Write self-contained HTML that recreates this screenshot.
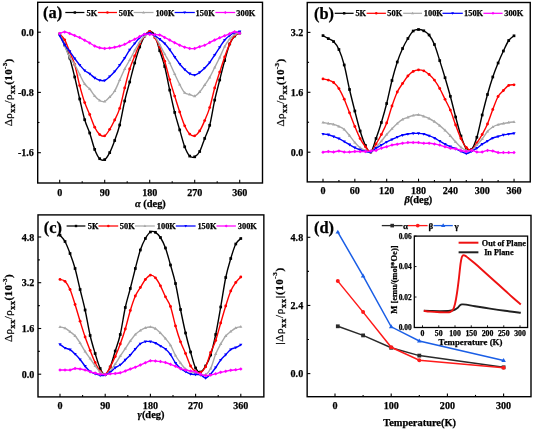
<!DOCTYPE html>
<html><head><meta charset="utf-8"><style>
html,body{margin:0;padding:0;background:#fff;width:533px;height:429px;overflow:hidden;}
svg{display:block;will-change:transform;filter:blur(0.3px);}
text{font-family:"Liberation Serif", serif;stroke:#000;stroke-width:0.25px;}
</style></head><body>
<svg width="533" height="429" viewBox="0 0 533 429" font-family='"Liberation Serif", serif'>
<rect width="533" height="429" fill="#fff"/>
<path d="M59.70,34.00 C60.53,35.83 63.03,41.00 64.70,45.00 C66.37,49.00 68.03,52.67 69.70,58.00 C71.37,63.33 73.03,70.17 74.70,77.00 C76.37,83.83 78.03,91.88 79.70,99.00 C81.37,106.12 83.03,114.03 84.70,119.70 C86.37,125.37 88.03,128.05 89.70,133.00 C91.37,137.95 93.03,145.12 94.70,149.40 C96.37,153.68 98.03,157.00 99.70,158.70 C101.37,160.40 103.03,160.62 104.70,159.60 C106.37,158.58 108.03,155.78 109.70,152.60 C111.37,149.42 113.03,145.10 114.70,140.50 C116.37,135.90 118.03,131.58 119.70,125.00 C121.37,118.42 123.03,108.17 124.70,101.00 C126.37,93.83 128.03,88.33 129.70,82.00 C131.37,75.67 133.03,68.83 134.70,63.00 C136.37,57.17 138.03,51.50 139.70,47.00 C141.37,42.50 143.03,38.53 144.70,36.00 C146.37,33.47 148.03,31.97 149.70,31.80 C151.37,31.63 153.03,31.85 154.70,35.00 C156.37,38.15 158.03,45.45 159.70,50.70 C161.37,55.95 163.03,59.93 164.70,66.50 C166.37,73.07 168.03,82.45 169.70,90.10 C171.37,97.75 173.03,105.77 174.70,112.40 C176.37,119.03 178.03,124.17 179.70,129.90 C181.37,135.63 183.03,142.43 184.70,146.80 C186.37,151.17 188.03,154.43 189.70,156.10 C191.37,157.77 193.03,157.57 194.70,156.80 C196.37,156.03 198.03,154.57 199.70,151.50 C201.37,148.43 203.03,142.77 204.70,138.40 C206.37,134.03 208.03,131.68 209.70,125.30 C211.37,118.92 213.03,107.65 214.70,100.10 C216.37,92.55 218.03,86.60 219.70,80.00 C221.37,73.40 223.03,66.50 224.70,60.50 C226.37,54.50 228.03,48.08 229.70,44.00 C231.37,39.92 233.03,37.83 234.70,36.00 C236.37,34.17 238.87,33.50 239.70,33.00" fill="none" stroke="#000000" stroke-width="1.40" stroke-linejoin="round"/><rect x="58.35" y="32.65" width="2.70" height="2.70" fill="#000000"/><rect x="63.35" y="43.65" width="2.70" height="2.70" fill="#000000"/><rect x="68.35" y="56.65" width="2.70" height="2.70" fill="#000000"/><rect x="73.35" y="75.65" width="2.70" height="2.70" fill="#000000"/><rect x="78.35" y="97.65" width="2.70" height="2.70" fill="#000000"/><rect x="83.35" y="118.35" width="2.70" height="2.70" fill="#000000"/><rect x="88.35" y="131.65" width="2.70" height="2.70" fill="#000000"/><rect x="93.35" y="148.05" width="2.70" height="2.70" fill="#000000"/><rect x="98.35" y="157.35" width="2.70" height="2.70" fill="#000000"/><rect x="103.35" y="158.25" width="2.70" height="2.70" fill="#000000"/><rect x="108.35" y="151.25" width="2.70" height="2.70" fill="#000000"/><rect x="113.35" y="139.15" width="2.70" height="2.70" fill="#000000"/><rect x="118.35" y="123.65" width="2.70" height="2.70" fill="#000000"/><rect x="123.35" y="99.65" width="2.70" height="2.70" fill="#000000"/><rect x="128.35" y="80.65" width="2.70" height="2.70" fill="#000000"/><rect x="133.35" y="61.65" width="2.70" height="2.70" fill="#000000"/><rect x="138.35" y="45.65" width="2.70" height="2.70" fill="#000000"/><rect x="143.35" y="34.65" width="2.70" height="2.70" fill="#000000"/><rect x="148.35" y="30.45" width="2.70" height="2.70" fill="#000000"/><rect x="153.35" y="33.65" width="2.70" height="2.70" fill="#000000"/><rect x="158.35" y="49.35" width="2.70" height="2.70" fill="#000000"/><rect x="163.35" y="65.15" width="2.70" height="2.70" fill="#000000"/><rect x="168.35" y="88.75" width="2.70" height="2.70" fill="#000000"/><rect x="173.35" y="111.05" width="2.70" height="2.70" fill="#000000"/><rect x="178.35" y="128.55" width="2.70" height="2.70" fill="#000000"/><rect x="183.35" y="145.45" width="2.70" height="2.70" fill="#000000"/><rect x="188.35" y="154.75" width="2.70" height="2.70" fill="#000000"/><rect x="193.35" y="155.45" width="2.70" height="2.70" fill="#000000"/><rect x="198.35" y="150.15" width="2.70" height="2.70" fill="#000000"/><rect x="203.35" y="137.05" width="2.70" height="2.70" fill="#000000"/><rect x="208.35" y="123.95" width="2.70" height="2.70" fill="#000000"/><rect x="213.35" y="98.75" width="2.70" height="2.70" fill="#000000"/><rect x="218.35" y="78.65" width="2.70" height="2.70" fill="#000000"/><rect x="223.35" y="59.15" width="2.70" height="2.70" fill="#000000"/><rect x="228.35" y="42.65" width="2.70" height="2.70" fill="#000000"/><rect x="233.35" y="34.65" width="2.70" height="2.70" fill="#000000"/><rect x="238.35" y="31.65" width="2.70" height="2.70" fill="#000000"/><path d="M59.70,34.00 C60.53,34.97 63.03,36.80 64.70,39.80 C66.37,42.80 68.03,47.88 69.70,52.00 C71.37,56.12 73.03,58.90 74.70,64.50 C76.37,70.10 78.03,79.25 79.70,85.60 C81.37,91.95 83.03,97.78 84.70,102.60 C86.37,107.42 88.03,110.40 89.70,114.50 C91.37,118.60 93.03,123.85 94.70,127.20 C96.37,130.55 98.03,133.17 99.70,134.60 C101.37,136.03 103.03,136.68 104.70,135.80 C106.37,134.92 108.03,131.93 109.70,129.30 C111.37,126.67 113.03,123.48 114.70,120.00 C116.37,116.52 118.03,113.73 119.70,108.40 C121.37,103.07 123.03,94.57 124.70,88.00 C126.37,81.43 128.03,74.33 129.70,69.00 C131.37,63.67 133.03,60.17 134.70,56.00 C136.37,51.83 138.03,47.35 139.70,44.00 C141.37,40.65 143.03,37.98 144.70,35.90 C146.37,33.82 148.03,31.22 149.70,31.50 C151.37,31.78 153.03,35.02 154.70,37.60 C156.37,40.18 158.03,43.07 159.70,47.00 C161.37,50.93 163.03,55.77 164.70,61.20 C166.37,66.63 168.03,73.78 169.70,79.60 C171.37,85.42 173.03,90.72 174.70,96.10 C176.37,101.48 178.03,106.95 179.70,111.90 C181.37,116.85 183.03,122.10 184.70,125.80 C186.37,129.50 188.03,132.43 189.70,134.10 C191.37,135.77 193.03,136.33 194.70,135.80 C196.37,135.27 198.03,133.43 199.70,130.90 C201.37,128.37 203.03,124.48 204.70,120.60 C206.37,116.72 208.03,113.03 209.70,107.60 C211.37,102.17 213.03,93.92 214.70,88.00 C216.37,82.08 218.03,77.28 219.70,72.10 C221.37,66.92 223.03,61.60 224.70,56.90 C226.37,52.20 228.03,47.47 229.70,43.90 C231.37,40.33 233.03,37.32 234.70,35.50 C236.37,33.68 238.87,33.42 239.70,33.00" fill="none" stroke="#ff0000" stroke-width="1.40" stroke-linejoin="round"/><circle cx="59.70" cy="34.00" r="1.42" fill="#ff0000"/><circle cx="64.70" cy="39.80" r="1.42" fill="#ff0000"/><circle cx="69.70" cy="52.00" r="1.42" fill="#ff0000"/><circle cx="74.70" cy="64.50" r="1.42" fill="#ff0000"/><circle cx="79.70" cy="85.60" r="1.42" fill="#ff0000"/><circle cx="84.70" cy="102.60" r="1.42" fill="#ff0000"/><circle cx="89.70" cy="114.50" r="1.42" fill="#ff0000"/><circle cx="94.70" cy="127.20" r="1.42" fill="#ff0000"/><circle cx="99.70" cy="134.60" r="1.42" fill="#ff0000"/><circle cx="104.70" cy="135.80" r="1.42" fill="#ff0000"/><circle cx="109.70" cy="129.30" r="1.42" fill="#ff0000"/><circle cx="114.70" cy="120.00" r="1.42" fill="#ff0000"/><circle cx="119.70" cy="108.40" r="1.42" fill="#ff0000"/><circle cx="124.70" cy="88.00" r="1.42" fill="#ff0000"/><circle cx="129.70" cy="69.00" r="1.42" fill="#ff0000"/><circle cx="134.70" cy="56.00" r="1.42" fill="#ff0000"/><circle cx="139.70" cy="44.00" r="1.42" fill="#ff0000"/><circle cx="144.70" cy="35.90" r="1.42" fill="#ff0000"/><circle cx="149.70" cy="31.50" r="1.42" fill="#ff0000"/><circle cx="154.70" cy="37.60" r="1.42" fill="#ff0000"/><circle cx="159.70" cy="47.00" r="1.42" fill="#ff0000"/><circle cx="164.70" cy="61.20" r="1.42" fill="#ff0000"/><circle cx="169.70" cy="79.60" r="1.42" fill="#ff0000"/><circle cx="174.70" cy="96.10" r="1.42" fill="#ff0000"/><circle cx="179.70" cy="111.90" r="1.42" fill="#ff0000"/><circle cx="184.70" cy="125.80" r="1.42" fill="#ff0000"/><circle cx="189.70" cy="134.10" r="1.42" fill="#ff0000"/><circle cx="194.70" cy="135.80" r="1.42" fill="#ff0000"/><circle cx="199.70" cy="130.90" r="1.42" fill="#ff0000"/><circle cx="204.70" cy="120.60" r="1.42" fill="#ff0000"/><circle cx="209.70" cy="107.60" r="1.42" fill="#ff0000"/><circle cx="214.70" cy="88.00" r="1.42" fill="#ff0000"/><circle cx="219.70" cy="72.10" r="1.42" fill="#ff0000"/><circle cx="224.70" cy="56.90" r="1.42" fill="#ff0000"/><circle cx="229.70" cy="43.90" r="1.42" fill="#ff0000"/><circle cx="234.70" cy="35.50" r="1.42" fill="#ff0000"/><circle cx="239.70" cy="33.00" r="1.42" fill="#ff0000"/><path d="M59.70,34.00 C60.53,36.00 63.03,42.08 64.70,46.00 C66.37,49.92 68.03,54.42 69.70,57.50 C71.37,60.58 73.03,61.67 74.70,64.50 C76.37,67.33 78.03,71.25 79.70,74.50 C81.37,77.75 83.03,81.58 84.70,84.00 C86.37,86.42 88.03,87.00 89.70,89.00 C91.37,91.00 93.03,94.08 94.70,96.00 C96.37,97.92 98.03,99.60 99.70,100.50 C101.37,101.40 103.03,101.98 104.70,101.40 C106.37,100.82 108.03,98.73 109.70,97.00 C111.37,95.27 113.03,93.83 114.70,91.00 C116.37,88.17 118.03,83.67 119.70,80.00 C121.37,76.33 123.03,72.33 124.70,69.00 C126.37,65.67 128.03,63.08 129.70,60.00 C131.37,56.92 133.03,53.50 134.70,50.50 C136.37,47.50 138.03,44.42 139.70,42.00 C141.37,39.58 143.03,37.47 144.70,36.00 C146.37,34.53 148.03,33.12 149.70,33.20 C151.37,33.28 153.03,34.60 154.70,36.50 C156.37,38.40 158.03,41.68 159.70,44.60 C161.37,47.52 163.03,50.93 164.70,54.00 C166.37,57.07 168.03,59.67 169.70,63.00 C171.37,66.33 173.03,70.42 174.70,74.00 C176.37,77.58 178.03,81.38 179.70,84.50 C181.37,87.62 183.03,91.05 184.70,92.70 C186.37,94.35 188.03,93.83 189.70,94.40 C191.37,94.97 193.03,96.50 194.70,96.10 C196.37,95.70 198.03,93.85 199.70,92.00 C201.37,90.15 203.03,87.43 204.70,85.00 C206.37,82.57 208.03,80.32 209.70,77.40 C211.37,74.48 213.03,70.82 214.70,67.50 C216.37,64.18 218.03,61.00 219.70,57.50 C221.37,54.00 223.03,49.58 224.70,46.50 C226.37,43.42 228.03,41.00 229.70,39.00 C231.37,37.00 233.03,35.55 234.70,34.50 C236.37,33.45 238.87,33.00 239.70,32.70" fill="none" stroke="#a8a8a8" stroke-width="1.40" stroke-linejoin="round"/><path d="M59.70,32.24L61.32,35.08L58.08,35.08Z" fill="#a8a8a8"/><path d="M64.70,44.24L66.32,47.08L63.08,47.08Z" fill="#a8a8a8"/><path d="M69.70,55.74L71.32,58.58L68.08,58.58Z" fill="#a8a8a8"/><path d="M74.70,62.74L76.32,65.58L73.08,65.58Z" fill="#a8a8a8"/><path d="M79.70,72.75L81.32,75.58L78.08,75.58Z" fill="#a8a8a8"/><path d="M84.70,82.25L86.32,85.08L83.08,85.08Z" fill="#a8a8a8"/><path d="M89.70,87.25L91.32,90.08L88.08,90.08Z" fill="#a8a8a8"/><path d="M94.70,94.25L96.32,97.08L93.08,97.08Z" fill="#a8a8a8"/><path d="M99.70,98.75L101.32,101.58L98.08,101.58Z" fill="#a8a8a8"/><path d="M104.70,99.65L106.32,102.48L103.08,102.48Z" fill="#a8a8a8"/><path d="M109.70,95.25L111.32,98.08L108.08,98.08Z" fill="#a8a8a8"/><path d="M114.70,89.25L116.32,92.08L113.08,92.08Z" fill="#a8a8a8"/><path d="M119.70,78.25L121.32,81.08L118.08,81.08Z" fill="#a8a8a8"/><path d="M124.70,67.25L126.32,70.08L123.08,70.08Z" fill="#a8a8a8"/><path d="M129.70,58.24L131.32,61.08L128.08,61.08Z" fill="#a8a8a8"/><path d="M134.70,48.74L136.32,51.58L133.08,51.58Z" fill="#a8a8a8"/><path d="M139.70,40.24L141.32,43.08L138.08,43.08Z" fill="#a8a8a8"/><path d="M144.70,34.24L146.32,37.08L143.08,37.08Z" fill="#a8a8a8"/><path d="M149.70,31.45L151.32,34.28L148.08,34.28Z" fill="#a8a8a8"/><path d="M154.70,34.74L156.32,37.58L153.08,37.58Z" fill="#a8a8a8"/><path d="M159.70,42.84L161.32,45.68L158.08,45.68Z" fill="#a8a8a8"/><path d="M164.70,52.24L166.32,55.08L163.08,55.08Z" fill="#a8a8a8"/><path d="M169.70,61.24L171.32,64.08L168.08,64.08Z" fill="#a8a8a8"/><path d="M174.70,72.25L176.32,75.08L173.08,75.08Z" fill="#a8a8a8"/><path d="M179.70,82.75L181.32,85.58L178.08,85.58Z" fill="#a8a8a8"/><path d="M184.70,90.95L186.32,93.78L183.08,93.78Z" fill="#a8a8a8"/><path d="M189.70,92.65L191.32,95.48L188.08,95.48Z" fill="#a8a8a8"/><path d="M194.70,94.34L196.32,97.18L193.08,97.18Z" fill="#a8a8a8"/><path d="M199.70,90.25L201.32,93.08L198.08,93.08Z" fill="#a8a8a8"/><path d="M204.70,83.25L206.32,86.08L203.08,86.08Z" fill="#a8a8a8"/><path d="M209.70,75.65L211.32,78.48L208.08,78.48Z" fill="#a8a8a8"/><path d="M214.70,65.75L216.32,68.58L213.08,68.58Z" fill="#a8a8a8"/><path d="M219.70,55.74L221.32,58.58L218.08,58.58Z" fill="#a8a8a8"/><path d="M224.70,44.74L226.32,47.58L223.08,47.58Z" fill="#a8a8a8"/><path d="M229.70,37.24L231.32,40.08L228.08,40.08Z" fill="#a8a8a8"/><path d="M234.70,32.74L236.32,35.58L233.08,35.58Z" fill="#a8a8a8"/><path d="M239.70,30.95L241.32,33.78L238.08,33.78Z" fill="#a8a8a8"/><path d="M59.70,35.70 C60.53,37.22 63.03,42.20 64.70,44.80 C66.37,47.40 68.03,49.02 69.70,51.30 C71.37,53.58 73.03,56.22 74.70,58.50 C76.37,60.78 78.03,63.00 79.70,65.00 C81.37,67.00 83.03,69.03 84.70,70.50 C86.37,71.97 88.03,72.57 89.70,73.80 C91.37,75.03 93.03,76.82 94.70,77.90 C96.37,78.98 98.03,79.87 99.70,80.30 C101.37,80.73 103.03,81.12 104.70,80.50 C106.37,79.88 108.03,78.10 109.70,76.60 C111.37,75.10 113.03,73.40 114.70,71.50 C116.37,69.60 118.03,67.45 119.70,65.20 C121.37,62.95 123.03,60.55 124.70,58.00 C126.37,55.45 128.03,52.32 129.70,49.90 C131.37,47.48 133.03,45.52 134.70,43.50 C136.37,41.48 138.03,39.33 139.70,37.80 C141.37,36.27 143.03,35.07 144.70,34.30 C146.37,33.53 148.03,33.00 149.70,33.20 C151.37,33.40 153.03,34.50 154.70,35.50 C156.37,36.50 158.03,37.87 159.70,39.20 C161.37,40.53 163.03,41.75 164.70,43.50 C166.37,45.25 168.03,47.45 169.70,49.70 C171.37,51.95 173.03,54.62 174.70,57.00 C176.37,59.38 178.03,61.92 179.70,64.00 C181.37,66.08 183.03,67.88 184.70,69.50 C186.37,71.12 188.03,72.78 189.70,73.70 C191.37,74.62 193.03,75.22 194.70,75.00 C196.37,74.78 198.03,73.57 199.70,72.40 C201.37,71.23 203.03,69.65 204.70,68.00 C206.37,66.35 208.03,64.67 209.70,62.50 C211.37,60.33 213.03,57.52 214.70,55.00 C216.37,52.48 218.03,49.90 219.70,47.40 C221.37,44.90 223.03,41.98 224.70,40.00 C226.37,38.02 228.03,36.72 229.70,35.50 C231.37,34.28 233.03,33.33 234.70,32.70 C236.37,32.07 238.87,31.87 239.70,31.70" fill="none" stroke="#0000ff" stroke-width="1.40" stroke-linejoin="round"/><path d="M59.70,37.46L61.32,34.62L58.08,34.62Z" fill="#0000ff"/><path d="M64.70,46.55L66.32,43.72L63.08,43.72Z" fill="#0000ff"/><path d="M69.70,53.05L71.32,50.22L68.08,50.22Z" fill="#0000ff"/><path d="M74.70,60.26L76.32,57.42L73.08,57.42Z" fill="#0000ff"/><path d="M79.70,66.75L81.32,63.92L78.08,63.92Z" fill="#0000ff"/><path d="M84.70,72.25L86.32,69.42L83.08,69.42Z" fill="#0000ff"/><path d="M89.70,75.55L91.32,72.72L88.08,72.72Z" fill="#0000ff"/><path d="M94.70,79.66L96.32,76.82L93.08,76.82Z" fill="#0000ff"/><path d="M99.70,82.05L101.32,79.22L98.08,79.22Z" fill="#0000ff"/><path d="M104.70,82.25L106.32,79.42L103.08,79.42Z" fill="#0000ff"/><path d="M109.70,78.35L111.32,75.52L108.08,75.52Z" fill="#0000ff"/><path d="M114.70,73.25L116.32,70.42L113.08,70.42Z" fill="#0000ff"/><path d="M119.70,66.95L121.32,64.12L118.08,64.12Z" fill="#0000ff"/><path d="M124.70,59.76L126.32,56.92L123.08,56.92Z" fill="#0000ff"/><path d="M129.70,51.66L131.32,48.82L128.08,48.82Z" fill="#0000ff"/><path d="M134.70,45.26L136.32,42.42L133.08,42.42Z" fill="#0000ff"/><path d="M139.70,39.55L141.32,36.72L138.08,36.72Z" fill="#0000ff"/><path d="M144.70,36.05L146.32,33.22L143.08,33.22Z" fill="#0000ff"/><path d="M149.70,34.96L151.32,32.12L148.08,32.12Z" fill="#0000ff"/><path d="M154.70,37.26L156.32,34.42L153.08,34.42Z" fill="#0000ff"/><path d="M159.70,40.96L161.32,38.12L158.08,38.12Z" fill="#0000ff"/><path d="M164.70,45.26L166.32,42.42L163.08,42.42Z" fill="#0000ff"/><path d="M169.70,51.46L171.32,48.62L168.08,48.62Z" fill="#0000ff"/><path d="M174.70,58.76L176.32,55.92L173.08,55.92Z" fill="#0000ff"/><path d="M179.70,65.75L181.32,62.92L178.08,62.92Z" fill="#0000ff"/><path d="M184.70,71.25L186.32,68.42L183.08,68.42Z" fill="#0000ff"/><path d="M189.70,75.45L191.32,72.62L188.08,72.62Z" fill="#0000ff"/><path d="M194.70,76.75L196.32,73.92L193.08,73.92Z" fill="#0000ff"/><path d="M199.70,74.16L201.32,71.32L198.08,71.32Z" fill="#0000ff"/><path d="M204.70,69.75L206.32,66.92L203.08,66.92Z" fill="#0000ff"/><path d="M209.70,64.25L211.32,61.42L208.08,61.42Z" fill="#0000ff"/><path d="M214.70,56.76L216.32,53.92L213.08,53.92Z" fill="#0000ff"/><path d="M219.70,49.16L221.32,46.32L218.08,46.32Z" fill="#0000ff"/><path d="M224.70,41.76L226.32,38.92L223.08,38.92Z" fill="#0000ff"/><path d="M229.70,37.26L231.32,34.42L228.08,34.42Z" fill="#0000ff"/><path d="M234.70,34.46L236.32,31.62L233.08,31.62Z" fill="#0000ff"/><path d="M239.70,33.45L241.32,30.62L238.08,30.62Z" fill="#0000ff"/><path d="M59.70,33.60 C60.53,33.32 63.03,31.92 64.70,31.90 C66.37,31.88 68.03,32.88 69.70,33.50 C71.37,34.12 73.03,34.92 74.70,35.60 C76.37,36.28 78.03,36.82 79.70,37.60 C81.37,38.38 83.03,39.40 84.70,40.30 C86.37,41.20 88.03,42.05 89.70,43.00 C91.37,43.95 93.03,45.20 94.70,46.00 C96.37,46.80 98.03,47.38 99.70,47.80 C101.37,48.22 103.03,48.47 104.70,48.50 C106.37,48.53 108.03,48.22 109.70,48.00 C111.37,47.78 113.03,47.53 114.70,47.20 C116.37,46.87 118.03,46.48 119.70,46.00 C121.37,45.52 123.03,45.05 124.70,44.30 C126.37,43.55 128.03,42.33 129.70,41.50 C131.37,40.67 133.03,40.12 134.70,39.30 C136.37,38.48 138.03,37.45 139.70,36.60 C141.37,35.75 143.03,34.57 144.70,34.20 C146.37,33.83 148.03,34.33 149.70,34.40 C151.37,34.47 153.03,34.50 154.70,34.60 C156.37,34.70 158.03,34.53 159.70,35.00 C161.37,35.47 163.03,36.55 164.70,37.40 C166.37,38.25 168.03,39.22 169.70,40.10 C171.37,40.98 173.03,41.85 174.70,42.70 C176.37,43.55 178.03,44.45 179.70,45.20 C181.37,45.95 183.03,46.67 184.70,47.20 C186.37,47.73 188.03,48.18 189.70,48.40 C191.37,48.62 193.03,48.78 194.70,48.50 C196.37,48.22 198.03,47.25 199.70,46.70 C201.37,46.15 203.03,45.88 204.70,45.20 C206.37,44.52 208.03,43.47 209.70,42.60 C211.37,41.73 213.03,40.80 214.70,40.00 C216.37,39.20 218.03,38.50 219.70,37.80 C221.37,37.10 223.03,36.48 224.70,35.80 C226.37,35.12 228.03,34.37 229.70,33.70 C231.37,33.03 233.03,31.88 234.70,31.80 C236.37,31.72 238.87,32.97 239.70,33.20" fill="none" stroke="#ff00ff" stroke-width="1.40" stroke-linejoin="round"/><path d="M59.70,31.85L61.46,33.60L59.70,35.36L57.95,33.60Z" fill="#ff00ff"/><path d="M64.70,30.14L66.45,31.90L64.70,33.66L62.95,31.90Z" fill="#ff00ff"/><path d="M69.70,31.75L71.45,33.50L69.70,35.26L67.95,33.50Z" fill="#ff00ff"/><path d="M74.70,33.84L76.45,35.60L74.70,37.36L72.95,35.60Z" fill="#ff00ff"/><path d="M79.70,35.84L81.45,37.60L79.70,39.36L77.95,37.60Z" fill="#ff00ff"/><path d="M84.70,38.54L86.45,40.30L84.70,42.05L82.95,40.30Z" fill="#ff00ff"/><path d="M89.70,41.24L91.45,43.00L89.70,44.76L87.95,43.00Z" fill="#ff00ff"/><path d="M94.70,44.24L96.45,46.00L94.70,47.76L92.95,46.00Z" fill="#ff00ff"/><path d="M99.70,46.04L101.45,47.80L99.70,49.55L97.95,47.80Z" fill="#ff00ff"/><path d="M104.70,46.74L106.45,48.50L104.70,50.26L102.95,48.50Z" fill="#ff00ff"/><path d="M109.70,46.24L111.45,48.00L109.70,49.76L107.95,48.00Z" fill="#ff00ff"/><path d="M114.70,45.45L116.45,47.20L114.70,48.96L112.95,47.20Z" fill="#ff00ff"/><path d="M119.70,44.24L121.45,46.00L119.70,47.76L117.95,46.00Z" fill="#ff00ff"/><path d="M124.70,42.54L126.45,44.30L124.70,46.05L122.95,44.30Z" fill="#ff00ff"/><path d="M129.70,39.74L131.45,41.50L129.70,43.26L127.94,41.50Z" fill="#ff00ff"/><path d="M134.70,37.54L136.45,39.30L134.70,41.05L132.94,39.30Z" fill="#ff00ff"/><path d="M139.70,34.84L141.45,36.60L139.70,38.36L137.94,36.60Z" fill="#ff00ff"/><path d="M144.70,32.45L146.45,34.20L144.70,35.96L142.94,34.20Z" fill="#ff00ff"/><path d="M149.70,32.64L151.45,34.40L149.70,36.16L147.94,34.40Z" fill="#ff00ff"/><path d="M154.70,32.84L156.45,34.60L154.70,36.36L152.94,34.60Z" fill="#ff00ff"/><path d="M159.70,33.24L161.45,35.00L159.70,36.76L157.94,35.00Z" fill="#ff00ff"/><path d="M164.70,35.64L166.45,37.40L164.70,39.16L162.94,37.40Z" fill="#ff00ff"/><path d="M169.70,38.34L171.45,40.10L169.70,41.86L167.94,40.10Z" fill="#ff00ff"/><path d="M174.70,40.95L176.45,42.70L174.70,44.46L172.94,42.70Z" fill="#ff00ff"/><path d="M179.70,43.45L181.45,45.20L179.70,46.96L177.94,45.20Z" fill="#ff00ff"/><path d="M184.70,45.45L186.45,47.20L184.70,48.96L182.94,47.20Z" fill="#ff00ff"/><path d="M189.70,46.64L191.45,48.40L189.70,50.16L187.94,48.40Z" fill="#ff00ff"/><path d="M194.70,46.74L196.45,48.50L194.70,50.26L192.94,48.50Z" fill="#ff00ff"/><path d="M199.70,44.95L201.45,46.70L199.70,48.46L197.94,46.70Z" fill="#ff00ff"/><path d="M204.70,43.45L206.45,45.20L204.70,46.96L202.94,45.20Z" fill="#ff00ff"/><path d="M209.70,40.84L211.45,42.60L209.70,44.36L207.94,42.60Z" fill="#ff00ff"/><path d="M214.70,38.24L216.45,40.00L214.70,41.76L212.94,40.00Z" fill="#ff00ff"/><path d="M219.70,36.04L221.45,37.80L219.70,39.55L217.94,37.80Z" fill="#ff00ff"/><path d="M224.70,34.04L226.45,35.80L224.70,37.55L222.94,35.80Z" fill="#ff00ff"/><path d="M229.70,31.95L231.45,33.70L229.70,35.46L227.94,33.70Z" fill="#ff00ff"/><path d="M234.70,30.05L236.45,31.80L234.70,33.55L232.94,31.80Z" fill="#ff00ff"/><path d="M239.70,31.45L241.45,33.20L239.70,34.96L237.94,33.20Z" fill="#ff00ff"/>
<rect x="37.70" y="2.30" width="224.80" height="180.70" fill="none" stroke="#000" stroke-width="1.40"/>
<line x1="59.70" y1="183.00" x2="59.70" y2="179.80" stroke="#000" stroke-width="1.10"/><line x1="104.70" y1="183.00" x2="104.70" y2="179.80" stroke="#000" stroke-width="1.10"/><line x1="149.70" y1="183.00" x2="149.70" y2="179.80" stroke="#000" stroke-width="1.10"/><line x1="194.70" y1="183.00" x2="194.70" y2="179.80" stroke="#000" stroke-width="1.10"/><line x1="239.70" y1="183.00" x2="239.70" y2="179.80" stroke="#000" stroke-width="1.10"/><line x1="82.20" y1="183.00" x2="82.20" y2="181.20" stroke="#000" stroke-width="1.10"/><line x1="127.20" y1="183.00" x2="127.20" y2="181.20" stroke="#000" stroke-width="1.10"/><line x1="172.20" y1="183.00" x2="172.20" y2="181.20" stroke="#000" stroke-width="1.10"/><line x1="217.20" y1="183.00" x2="217.20" y2="181.20" stroke="#000" stroke-width="1.10"/>
<line x1="37.70" y1="32.20" x2="40.90" y2="32.20" stroke="#000" stroke-width="1.10"/><line x1="37.70" y1="92.40" x2="40.90" y2="92.40" stroke="#000" stroke-width="1.10"/><line x1="37.70" y1="152.70" x2="40.90" y2="152.70" stroke="#000" stroke-width="1.10"/><line x1="37.70" y1="62.30" x2="39.50" y2="62.30" stroke="#000" stroke-width="1.10"/><line x1="37.70" y1="122.50" x2="39.50" y2="122.50" stroke="#000" stroke-width="1.10"/>
<text x="59.70" y="196.00" font-size="10.10" font-weight="bold" font-style="normal" text-anchor="middle" >0</text>
<text x="104.70" y="196.00" font-size="10.10" font-weight="bold" font-style="normal" text-anchor="middle" >90</text>
<text x="149.70" y="196.00" font-size="10.10" font-weight="bold" font-style="normal" text-anchor="middle" >180</text>
<text x="194.70" y="196.00" font-size="10.10" font-weight="bold" font-style="normal" text-anchor="middle" >270</text>
<text x="239.70" y="196.00" font-size="10.10" font-weight="bold" font-style="normal" text-anchor="middle" >360</text>
<text x="33.90" y="35.70" font-size="10.10" font-weight="bold" font-style="normal" text-anchor="end" >0.0</text>
<text x="33.90" y="95.90" font-size="10.10" font-weight="bold" font-style="normal" text-anchor="end" >-0.8</text>
<text x="33.90" y="156.20" font-size="10.10" font-weight="bold" font-style="normal" text-anchor="end" >-1.6</text>
<text x="150.40" y="207.20" font-size="10.40" font-weight="bold" font-style="normal" text-anchor="middle" ><tspan font-style="italic">α</tspan> (deg)</text>
<text x="43.10" y="18.40" font-size="16.40" font-weight="bold" font-style="normal" text-anchor="start" >(a)</text>
<line x1="65.30" y1="12.50" x2="84.40" y2="12.50" stroke="#000000" stroke-width="1.25"/><rect x="73.65" y="11.30" width="2.40" height="2.40" fill="#000000"/><text x="86.60" y="15.50" font-size="8.40" font-weight="bold" font-style="normal" text-anchor="start" >5K</text><line x1="97.90" y1="12.50" x2="117.00" y2="12.50" stroke="#ff0000" stroke-width="1.25"/><circle cx="107.45" cy="12.50" r="1.26" fill="#ff0000"/><text x="118.80" y="15.50" font-size="8.40" font-weight="bold" font-style="normal" text-anchor="start" >50K</text><line x1="133.70" y1="12.50" x2="153.50" y2="12.50" stroke="#a8a8a8" stroke-width="1.25"/><path d="M143.60,10.94L145.04,13.46L142.16,13.46Z" fill="#a8a8a8"/><text x="155.40" y="15.50" font-size="8.40" font-weight="bold" font-style="normal" text-anchor="start" >100K</text><line x1="174.60" y1="12.50" x2="194.80" y2="12.50" stroke="#0000ff" stroke-width="1.25"/><path d="M184.70,14.06L186.14,11.54L183.26,11.54Z" fill="#0000ff"/><text x="195.60" y="15.50" font-size="8.40" font-weight="bold" font-style="normal" text-anchor="start" >150K</text><line x1="215.40" y1="12.50" x2="235.20" y2="12.50" stroke="#ff00ff" stroke-width="1.25"/><path d="M225.30,10.94L226.86,12.50L225.30,14.06L223.74,12.50Z" fill="#ff00ff"/><text x="236.30" y="15.50" font-size="8.40" font-weight="bold" font-style="normal" text-anchor="start" >300K</text>
<text class="yl" transform="translate(12.30,92.30) rotate(-90)" font-size="11.00" font-weight="bold" text-anchor="middle" letter-spacing="0.35"><tspan font-weight="normal">Δρ</tspan><tspan font-size="8.80" dy="3.08">xx</tspan><tspan font-weight="normal" dy="-3.08">/ρ</tspan><tspan font-size="8.80" dy="3.08">xx</tspan><tspan dy="-3.08">(10</tspan><tspan font-size="7.04" dy="-5.28">-3</tspan><tspan dy="5.28">)</tspan></text>
<path d="M323.00,35.60 C323.88,36.10 326.54,37.60 328.31,38.60 C330.07,39.60 331.84,39.78 333.61,41.60 C335.38,43.42 337.15,45.60 338.92,49.50 C340.69,53.40 342.46,58.33 344.22,65.00 C345.99,71.67 347.76,81.83 349.53,89.50 C351.30,97.17 353.07,104.08 354.84,111.00 C356.60,117.92 358.37,125.25 360.14,131.00 C361.91,136.75 363.68,142.00 365.45,145.50 C367.22,149.00 368.99,153.17 370.75,152.00 C372.52,150.83 374.29,143.42 376.06,138.50 C377.83,133.58 379.60,128.33 381.37,122.50 C383.13,116.67 384.90,110.50 386.67,103.50 C388.44,96.50 390.21,87.42 391.98,80.50 C393.75,73.58 395.52,67.33 397.28,62.00 C399.05,56.67 400.82,52.42 402.59,48.50 C404.36,44.58 406.13,41.42 407.90,38.50 C409.66,35.58 411.43,32.50 413.20,31.00 C414.97,29.50 416.74,29.53 418.51,29.50 C420.28,29.47 422.05,29.88 423.81,30.80 C425.58,31.72 427.35,32.72 429.12,35.00 C430.89,37.28 432.66,40.23 434.43,44.50 C436.19,48.77 437.96,55.07 439.73,60.60 C441.50,66.13 443.27,71.75 445.04,77.70 C446.81,83.65 448.58,89.75 450.34,96.30 C452.11,102.85 453.88,110.38 455.65,117.00 C457.42,123.62 459.19,130.75 460.96,136.00 C462.72,141.25 464.49,146.25 466.26,148.50 C468.03,150.75 469.80,151.37 471.57,149.50 C473.34,147.63 475.11,143.05 476.87,137.30 C478.64,131.55 480.41,122.13 482.18,115.00 C483.95,107.87 485.72,100.83 487.49,94.50 C489.25,88.17 491.02,82.25 492.79,77.00 C494.56,71.75 496.33,67.33 498.10,63.00 C499.87,58.67 501.64,54.75 503.40,51.00 C505.17,47.25 506.94,43.03 508.71,40.50 C510.48,37.97 513.13,36.58 514.02,35.80" fill="none" stroke="#000000" stroke-width="1.40" stroke-linejoin="round"/><rect x="321.65" y="34.25" width="2.70" height="2.70" fill="#000000"/><rect x="326.96" y="37.25" width="2.70" height="2.70" fill="#000000"/><rect x="332.26" y="40.25" width="2.70" height="2.70" fill="#000000"/><rect x="337.57" y="48.15" width="2.70" height="2.70" fill="#000000"/><rect x="342.87" y="63.65" width="2.70" height="2.70" fill="#000000"/><rect x="348.18" y="88.15" width="2.70" height="2.70" fill="#000000"/><rect x="353.49" y="109.65" width="2.70" height="2.70" fill="#000000"/><rect x="358.79" y="129.65" width="2.70" height="2.70" fill="#000000"/><rect x="364.10" y="144.15" width="2.70" height="2.70" fill="#000000"/><rect x="369.40" y="150.65" width="2.70" height="2.70" fill="#000000"/><rect x="374.71" y="137.15" width="2.70" height="2.70" fill="#000000"/><rect x="380.02" y="121.15" width="2.70" height="2.70" fill="#000000"/><rect x="385.32" y="102.15" width="2.70" height="2.70" fill="#000000"/><rect x="390.63" y="79.15" width="2.70" height="2.70" fill="#000000"/><rect x="395.93" y="60.65" width="2.70" height="2.70" fill="#000000"/><rect x="401.24" y="47.15" width="2.70" height="2.70" fill="#000000"/><rect x="406.55" y="37.15" width="2.70" height="2.70" fill="#000000"/><rect x="411.85" y="29.65" width="2.70" height="2.70" fill="#000000"/><rect x="417.16" y="28.15" width="2.70" height="2.70" fill="#000000"/><rect x="422.46" y="29.45" width="2.70" height="2.70" fill="#000000"/><rect x="427.77" y="33.65" width="2.70" height="2.70" fill="#000000"/><rect x="433.08" y="43.15" width="2.70" height="2.70" fill="#000000"/><rect x="438.38" y="59.25" width="2.70" height="2.70" fill="#000000"/><rect x="443.69" y="76.35" width="2.70" height="2.70" fill="#000000"/><rect x="448.99" y="94.95" width="2.70" height="2.70" fill="#000000"/><rect x="454.30" y="115.65" width="2.70" height="2.70" fill="#000000"/><rect x="459.61" y="134.65" width="2.70" height="2.70" fill="#000000"/><rect x="464.91" y="147.15" width="2.70" height="2.70" fill="#000000"/><rect x="470.22" y="148.15" width="2.70" height="2.70" fill="#000000"/><rect x="475.52" y="135.95" width="2.70" height="2.70" fill="#000000"/><rect x="480.83" y="113.65" width="2.70" height="2.70" fill="#000000"/><rect x="486.14" y="93.15" width="2.70" height="2.70" fill="#000000"/><rect x="491.44" y="75.65" width="2.70" height="2.70" fill="#000000"/><rect x="496.75" y="61.65" width="2.70" height="2.70" fill="#000000"/><rect x="502.05" y="49.65" width="2.70" height="2.70" fill="#000000"/><rect x="507.36" y="39.15" width="2.70" height="2.70" fill="#000000"/><rect x="512.67" y="34.45" width="2.70" height="2.70" fill="#000000"/><path d="M323.00,78.90 C323.88,79.10 326.54,79.50 328.31,80.10 C330.07,80.70 331.84,81.08 333.61,82.50 C335.38,83.92 337.15,85.82 338.92,88.60 C340.69,91.38 342.46,95.17 344.22,99.20 C345.99,103.23 347.76,108.25 349.53,112.80 C351.30,117.35 353.07,122.20 354.84,126.50 C356.60,130.80 358.37,135.22 360.14,138.60 C361.91,141.98 363.68,144.57 365.45,146.80 C367.22,149.03 368.99,152.47 370.75,152.00 C372.52,151.53 374.29,146.92 376.06,144.00 C377.83,141.08 379.60,138.00 381.37,134.50 C383.13,131.00 384.90,127.75 386.67,123.00 C388.44,118.25 390.21,111.17 391.98,106.00 C393.75,100.83 395.52,95.75 397.28,92.00 C399.05,88.25 400.82,86.17 402.59,83.50 C404.36,80.83 406.13,78.02 407.90,76.00 C409.66,73.98 411.43,72.42 413.20,71.40 C414.97,70.38 416.74,70.00 418.51,69.90 C420.28,69.80 422.05,70.03 423.81,70.80 C425.58,71.57 427.35,72.95 429.12,74.50 C430.89,76.05 432.66,77.77 434.43,80.10 C436.19,82.43 437.96,85.30 439.73,88.50 C441.50,91.70 443.27,95.70 445.04,99.30 C446.81,102.90 448.58,105.82 450.34,110.10 C452.11,114.38 453.88,120.27 455.65,125.00 C457.42,129.73 459.19,134.75 460.96,138.50 C462.72,142.25 464.49,145.58 466.26,147.50 C468.03,149.42 469.80,150.75 471.57,150.00 C473.34,149.25 475.11,145.58 476.87,143.00 C478.64,140.42 480.41,137.67 482.18,134.50 C483.95,131.33 485.72,128.17 487.49,124.00 C489.25,119.83 491.02,114.08 492.79,109.50 C494.56,104.92 496.33,99.67 498.10,96.50 C499.87,93.33 501.64,92.35 503.40,90.50 C505.17,88.65 506.94,86.35 508.71,85.40 C510.48,84.45 513.13,84.90 514.02,84.80" fill="none" stroke="#ff0000" stroke-width="1.40" stroke-linejoin="round"/><circle cx="323.00" cy="78.90" r="1.42" fill="#ff0000"/><circle cx="328.31" cy="80.10" r="1.42" fill="#ff0000"/><circle cx="333.61" cy="82.50" r="1.42" fill="#ff0000"/><circle cx="338.92" cy="88.60" r="1.42" fill="#ff0000"/><circle cx="344.22" cy="99.20" r="1.42" fill="#ff0000"/><circle cx="349.53" cy="112.80" r="1.42" fill="#ff0000"/><circle cx="354.84" cy="126.50" r="1.42" fill="#ff0000"/><circle cx="360.14" cy="138.60" r="1.42" fill="#ff0000"/><circle cx="365.45" cy="146.80" r="1.42" fill="#ff0000"/><circle cx="370.75" cy="152.00" r="1.42" fill="#ff0000"/><circle cx="376.06" cy="144.00" r="1.42" fill="#ff0000"/><circle cx="381.37" cy="134.50" r="1.42" fill="#ff0000"/><circle cx="386.67" cy="123.00" r="1.42" fill="#ff0000"/><circle cx="391.98" cy="106.00" r="1.42" fill="#ff0000"/><circle cx="397.28" cy="92.00" r="1.42" fill="#ff0000"/><circle cx="402.59" cy="83.50" r="1.42" fill="#ff0000"/><circle cx="407.90" cy="76.00" r="1.42" fill="#ff0000"/><circle cx="413.20" cy="71.40" r="1.42" fill="#ff0000"/><circle cx="418.51" cy="69.90" r="1.42" fill="#ff0000"/><circle cx="423.81" cy="70.80" r="1.42" fill="#ff0000"/><circle cx="429.12" cy="74.50" r="1.42" fill="#ff0000"/><circle cx="434.43" cy="80.10" r="1.42" fill="#ff0000"/><circle cx="439.73" cy="88.50" r="1.42" fill="#ff0000"/><circle cx="445.04" cy="99.30" r="1.42" fill="#ff0000"/><circle cx="450.34" cy="110.10" r="1.42" fill="#ff0000"/><circle cx="455.65" cy="125.00" r="1.42" fill="#ff0000"/><circle cx="460.96" cy="138.50" r="1.42" fill="#ff0000"/><circle cx="466.26" cy="147.50" r="1.42" fill="#ff0000"/><circle cx="471.57" cy="150.00" r="1.42" fill="#ff0000"/><circle cx="476.87" cy="143.00" r="1.42" fill="#ff0000"/><circle cx="482.18" cy="134.50" r="1.42" fill="#ff0000"/><circle cx="487.49" cy="124.00" r="1.42" fill="#ff0000"/><circle cx="492.79" cy="109.50" r="1.42" fill="#ff0000"/><circle cx="498.10" cy="96.50" r="1.42" fill="#ff0000"/><circle cx="503.40" cy="90.50" r="1.42" fill="#ff0000"/><circle cx="508.71" cy="85.40" r="1.42" fill="#ff0000"/><circle cx="514.02" cy="84.80" r="1.42" fill="#ff0000"/><path d="M323.00,122.50 C323.88,122.67 326.54,123.18 328.31,123.50 C330.07,123.82 331.84,123.90 333.61,124.40 C335.38,124.90 337.15,125.65 338.92,126.50 C340.69,127.35 342.46,127.98 344.22,129.50 C345.99,131.02 347.76,133.43 349.53,135.60 C351.30,137.77 353.07,140.48 354.84,142.50 C356.60,144.52 358.37,146.37 360.14,147.70 C361.91,149.03 363.68,149.78 365.45,150.50 C367.22,151.22 368.99,152.53 370.75,152.00 C372.52,151.47 374.29,149.12 376.06,147.30 C377.83,145.48 379.60,143.23 381.37,141.10 C383.13,138.97 384.90,136.57 386.67,134.50 C388.44,132.43 390.21,130.53 391.98,128.70 C393.75,126.87 395.52,125.05 397.28,123.50 C399.05,121.95 400.82,120.43 402.59,119.40 C404.36,118.37 406.13,117.97 407.90,117.30 C409.66,116.63 411.43,115.82 413.20,115.40 C414.97,114.98 416.74,114.65 418.51,114.80 C420.28,114.95 422.05,115.68 423.81,116.30 C425.58,116.92 427.35,117.62 429.12,118.50 C430.89,119.38 432.66,120.42 434.43,121.60 C436.19,122.78 437.96,124.15 439.73,125.60 C441.50,127.05 443.27,128.60 445.04,130.30 C446.81,132.00 448.58,133.85 450.34,135.80 C452.11,137.75 453.88,140.08 455.65,142.00 C457.42,143.92 459.19,145.90 460.96,147.30 C462.72,148.70 464.49,149.87 466.26,150.40 C468.03,150.93 469.80,151.40 471.57,150.50 C473.34,149.60 475.11,146.92 476.87,145.00 C478.64,143.08 480.41,141.25 482.18,139.00 C483.95,136.75 485.72,133.50 487.49,131.50 C489.25,129.50 491.02,128.13 492.79,127.00 C494.56,125.87 496.33,125.28 498.10,124.70 C499.87,124.12 501.64,123.87 503.40,123.50 C505.17,123.13 506.94,122.77 508.71,122.50 C510.48,122.23 513.13,122.00 514.02,121.90" fill="none" stroke="#a8a8a8" stroke-width="1.40" stroke-linejoin="round"/><path d="M323.00,120.75L324.62,123.58L321.38,123.58Z" fill="#a8a8a8"/><path d="M328.31,121.75L329.93,124.58L326.69,124.58Z" fill="#a8a8a8"/><path d="M333.61,122.65L335.23,125.48L331.99,125.48Z" fill="#a8a8a8"/><path d="M338.92,124.75L340.54,127.58L337.30,127.58Z" fill="#a8a8a8"/><path d="M344.22,127.75L345.84,130.58L342.60,130.58Z" fill="#a8a8a8"/><path d="M349.53,133.84L351.15,136.68L347.91,136.68Z" fill="#a8a8a8"/><path d="M354.84,140.75L356.46,143.58L353.22,143.58Z" fill="#a8a8a8"/><path d="M360.14,145.94L361.76,148.78L358.52,148.78Z" fill="#a8a8a8"/><path d="M365.45,148.75L367.07,151.58L363.83,151.58Z" fill="#a8a8a8"/><path d="M370.75,150.25L372.37,153.08L369.13,153.08Z" fill="#a8a8a8"/><path d="M376.06,145.55L377.68,148.38L374.44,148.38Z" fill="#a8a8a8"/><path d="M381.37,139.34L382.99,142.18L379.75,142.18Z" fill="#a8a8a8"/><path d="M386.67,132.75L388.29,135.58L385.05,135.58Z" fill="#a8a8a8"/><path d="M391.98,126.94L393.60,129.78L390.36,129.78Z" fill="#a8a8a8"/><path d="M397.28,121.75L398.90,124.58L395.66,124.58Z" fill="#a8a8a8"/><path d="M402.59,117.65L404.21,120.48L400.97,120.48Z" fill="#a8a8a8"/><path d="M407.90,115.55L409.52,118.38L406.28,118.38Z" fill="#a8a8a8"/><path d="M413.20,113.65L414.82,116.48L411.58,116.48Z" fill="#a8a8a8"/><path d="M418.51,113.05L420.13,115.88L416.89,115.88Z" fill="#a8a8a8"/><path d="M423.81,114.55L425.43,117.38L422.19,117.38Z" fill="#a8a8a8"/><path d="M429.12,116.75L430.74,119.58L427.50,119.58Z" fill="#a8a8a8"/><path d="M434.43,119.84L436.05,122.68L432.81,122.68Z" fill="#a8a8a8"/><path d="M439.73,123.84L441.35,126.68L438.11,126.68Z" fill="#a8a8a8"/><path d="M445.04,128.55L446.66,131.38L443.42,131.38Z" fill="#a8a8a8"/><path d="M450.34,134.05L451.96,136.88L448.72,136.88Z" fill="#a8a8a8"/><path d="M455.65,140.25L457.27,143.08L454.03,143.08Z" fill="#a8a8a8"/><path d="M460.96,145.55L462.58,148.38L459.34,148.38Z" fill="#a8a8a8"/><path d="M466.26,148.65L467.88,151.48L464.64,151.48Z" fill="#a8a8a8"/><path d="M471.57,148.75L473.19,151.58L469.95,151.58Z" fill="#a8a8a8"/><path d="M476.87,143.25L478.49,146.08L475.25,146.08Z" fill="#a8a8a8"/><path d="M482.18,137.25L483.80,140.08L480.56,140.08Z" fill="#a8a8a8"/><path d="M487.49,129.75L489.11,132.58L485.87,132.58Z" fill="#a8a8a8"/><path d="M492.79,125.25L494.41,128.08L491.17,128.08Z" fill="#a8a8a8"/><path d="M498.10,122.95L499.72,125.78L496.48,125.78Z" fill="#a8a8a8"/><path d="M503.40,121.75L505.02,124.58L501.78,124.58Z" fill="#a8a8a8"/><path d="M508.71,120.75L510.33,123.58L507.09,123.58Z" fill="#a8a8a8"/><path d="M514.02,120.15L515.64,122.98L512.40,122.98Z" fill="#a8a8a8"/><path d="M323.00,134.00 C323.88,134.12 326.54,134.28 328.31,134.70 C330.07,135.12 331.84,135.85 333.61,136.50 C335.38,137.15 337.15,137.75 338.92,138.60 C340.69,139.45 342.46,140.58 344.22,141.60 C345.99,142.62 347.76,143.68 349.53,144.70 C351.30,145.72 353.07,146.85 354.84,147.70 C356.60,148.55 358.37,149.17 360.14,149.80 C361.91,150.43 363.68,151.13 365.45,151.50 C367.22,151.87 368.99,152.55 370.75,152.00 C372.52,151.45 374.29,149.35 376.06,148.20 C377.83,147.05 379.60,146.13 381.37,145.10 C383.13,144.07 384.90,142.93 386.67,142.00 C388.44,141.07 390.21,140.32 391.98,139.50 C393.75,138.68 395.52,137.82 397.28,137.10 C399.05,136.38 400.82,135.72 402.59,135.20 C404.36,134.68 406.13,134.30 407.90,134.00 C409.66,133.70 411.43,133.50 413.20,133.40 C414.97,133.30 416.74,133.30 418.51,133.40 C420.28,133.50 422.05,133.60 423.81,134.00 C425.58,134.40 427.35,135.13 429.12,135.80 C430.89,136.47 432.66,137.12 434.43,138.00 C436.19,138.88 437.96,140.07 439.73,141.10 C441.50,142.13 443.27,143.27 445.04,144.20 C446.81,145.13 448.58,145.93 450.34,146.70 C452.11,147.47 453.88,148.03 455.65,148.80 C457.42,149.57 459.19,150.52 460.96,151.30 C462.72,152.08 464.49,153.50 466.26,153.50 C468.03,153.50 469.80,152.18 471.57,151.30 C473.34,150.42 475.11,149.38 476.87,148.20 C478.64,147.02 480.41,145.38 482.18,144.20 C483.95,143.02 485.72,142.13 487.49,141.10 C489.25,140.07 491.02,138.77 492.79,138.00 C494.56,137.23 496.33,137.02 498.10,136.50 C499.87,135.98 501.64,135.32 503.40,134.90 C505.17,134.48 506.94,134.25 508.71,134.00 C510.48,133.75 513.13,133.50 514.02,133.40" fill="none" stroke="#0000ff" stroke-width="1.40" stroke-linejoin="round"/><path d="M323.00,135.75L324.62,132.92L321.38,132.92Z" fill="#0000ff"/><path d="M328.31,136.45L329.93,133.62L326.69,133.62Z" fill="#0000ff"/><path d="M333.61,138.25L335.23,135.42L331.99,135.42Z" fill="#0000ff"/><path d="M338.92,140.35L340.54,137.52L337.30,137.52Z" fill="#0000ff"/><path d="M344.22,143.35L345.84,140.52L342.60,140.52Z" fill="#0000ff"/><path d="M349.53,146.45L351.15,143.62L347.91,143.62Z" fill="#0000ff"/><path d="M354.84,149.45L356.46,146.62L353.22,146.62Z" fill="#0000ff"/><path d="M360.14,151.56L361.76,148.72L358.52,148.72Z" fill="#0000ff"/><path d="M365.45,153.25L367.07,150.42L363.83,150.42Z" fill="#0000ff"/><path d="M370.75,153.75L372.37,150.92L369.13,150.92Z" fill="#0000ff"/><path d="M376.06,149.95L377.68,147.12L374.44,147.12Z" fill="#0000ff"/><path d="M381.37,146.85L382.99,144.02L379.75,144.02Z" fill="#0000ff"/><path d="M386.67,143.75L388.29,140.92L385.05,140.92Z" fill="#0000ff"/><path d="M391.98,141.25L393.60,138.42L390.36,138.42Z" fill="#0000ff"/><path d="M397.28,138.85L398.90,136.02L395.66,136.02Z" fill="#0000ff"/><path d="M402.59,136.95L404.21,134.12L400.97,134.12Z" fill="#0000ff"/><path d="M407.90,135.75L409.52,132.92L406.28,132.92Z" fill="#0000ff"/><path d="M413.20,135.16L414.82,132.32L411.58,132.32Z" fill="#0000ff"/><path d="M418.51,135.16L420.13,132.32L416.89,132.32Z" fill="#0000ff"/><path d="M423.81,135.75L425.43,132.92L422.19,132.92Z" fill="#0000ff"/><path d="M429.12,137.56L430.74,134.72L427.50,134.72Z" fill="#0000ff"/><path d="M434.43,139.75L436.05,136.92L432.81,136.92Z" fill="#0000ff"/><path d="M439.73,142.85L441.35,140.02L438.11,140.02Z" fill="#0000ff"/><path d="M445.04,145.95L446.66,143.12L443.42,143.12Z" fill="#0000ff"/><path d="M450.34,148.45L451.96,145.62L448.72,145.62Z" fill="#0000ff"/><path d="M455.65,150.56L457.27,147.72L454.03,147.72Z" fill="#0000ff"/><path d="M460.96,153.06L462.58,150.22L459.34,150.22Z" fill="#0000ff"/><path d="M466.26,155.25L467.88,152.42L464.64,152.42Z" fill="#0000ff"/><path d="M471.57,153.06L473.19,150.22L469.95,150.22Z" fill="#0000ff"/><path d="M476.87,149.95L478.49,147.12L475.25,147.12Z" fill="#0000ff"/><path d="M482.18,145.95L483.80,143.12L480.56,143.12Z" fill="#0000ff"/><path d="M487.49,142.85L489.11,140.02L485.87,140.02Z" fill="#0000ff"/><path d="M492.79,139.75L494.41,136.92L491.17,136.92Z" fill="#0000ff"/><path d="M498.10,138.25L499.72,135.42L496.48,135.42Z" fill="#0000ff"/><path d="M503.40,136.66L505.02,133.82L501.78,133.82Z" fill="#0000ff"/><path d="M508.71,135.75L510.33,132.92L507.09,132.92Z" fill="#0000ff"/><path d="M514.02,135.16L515.64,132.32L512.40,132.32Z" fill="#0000ff"/><path d="M323.00,152.20 C323.88,152.08 326.54,151.53 328.31,151.50 C330.07,151.47 331.84,152.08 333.61,152.00 C335.38,151.92 337.15,151.00 338.92,151.00 C340.69,151.00 342.46,151.83 344.22,152.00 C345.99,152.17 347.76,152.08 349.53,152.00 C351.30,151.92 353.07,151.58 354.84,151.50 C356.60,151.42 358.37,151.50 360.14,151.50 C361.91,151.50 363.68,151.58 365.45,151.50 C367.22,151.42 368.99,151.18 370.75,151.00 C372.52,150.82 374.29,150.87 376.06,150.40 C377.83,149.93 379.60,148.82 381.37,148.20 C383.13,147.58 384.90,147.22 386.67,146.70 C388.44,146.18 390.21,145.52 391.98,145.10 C393.75,144.68 395.52,144.50 397.28,144.20 C399.05,143.90 400.82,143.57 402.59,143.30 C404.36,143.03 406.13,142.72 407.90,142.60 C409.66,142.48 411.43,142.60 413.20,142.60 C414.97,142.60 416.74,142.48 418.51,142.60 C420.28,142.72 422.05,143.18 423.81,143.30 C425.58,143.42 427.35,143.20 429.12,143.30 C430.89,143.40 432.66,143.60 434.43,143.90 C436.19,144.20 437.96,144.63 439.73,145.10 C441.50,145.57 443.27,146.18 445.04,146.70 C446.81,147.22 448.58,147.85 450.34,148.20 C452.11,148.55 453.88,148.43 455.65,148.80 C457.42,149.17 459.19,149.95 460.96,150.40 C462.72,150.85 464.49,151.50 466.26,151.50 C468.03,151.50 469.80,150.32 471.57,150.40 C473.34,150.48 475.11,151.75 476.87,152.00 C478.64,152.25 480.41,152.17 482.18,151.90 C483.95,151.63 485.72,150.55 487.49,150.40 C489.25,150.25 491.02,150.63 492.79,151.00 C494.56,151.37 496.33,152.33 498.10,152.60 C499.87,152.87 501.64,152.60 503.40,152.60 C505.17,152.60 506.94,152.60 508.71,152.60 C510.48,152.60 513.13,152.60 514.02,152.60" fill="none" stroke="#ff00ff" stroke-width="1.40" stroke-linejoin="round"/><path d="M323.00,150.44L324.75,152.20L323.00,153.95L321.25,152.20Z" fill="#ff00ff"/><path d="M328.31,149.75L330.06,151.50L328.31,153.25L326.55,151.50Z" fill="#ff00ff"/><path d="M333.61,150.25L335.37,152.00L333.61,153.75L331.86,152.00Z" fill="#ff00ff"/><path d="M338.92,149.25L340.67,151.00L338.92,152.75L337.16,151.00Z" fill="#ff00ff"/><path d="M344.22,150.25L345.98,152.00L344.22,153.75L342.47,152.00Z" fill="#ff00ff"/><path d="M349.53,150.25L351.28,152.00L349.53,153.75L347.77,152.00Z" fill="#ff00ff"/><path d="M354.84,149.75L356.59,151.50L354.84,153.25L353.08,151.50Z" fill="#ff00ff"/><path d="M360.14,149.75L361.90,151.50L360.14,153.25L358.39,151.50Z" fill="#ff00ff"/><path d="M365.45,149.75L367.20,151.50L365.45,153.25L363.69,151.50Z" fill="#ff00ff"/><path d="M370.75,149.25L372.51,151.00L370.75,152.75L369.00,151.00Z" fill="#ff00ff"/><path d="M376.06,148.65L377.81,150.40L376.06,152.16L374.31,150.40Z" fill="#ff00ff"/><path d="M381.37,146.44L383.12,148.20L381.37,149.95L379.61,148.20Z" fill="#ff00ff"/><path d="M386.67,144.94L388.43,146.70L386.67,148.45L384.92,146.70Z" fill="#ff00ff"/><path d="M391.98,143.34L393.73,145.10L391.98,146.85L390.22,145.10Z" fill="#ff00ff"/><path d="M397.28,142.44L399.04,144.20L397.28,145.95L395.53,144.20Z" fill="#ff00ff"/><path d="M402.59,141.55L404.34,143.30L402.59,145.06L400.83,143.30Z" fill="#ff00ff"/><path d="M407.90,140.84L409.65,142.60L407.90,144.35L406.14,142.60Z" fill="#ff00ff"/><path d="M413.20,140.84L414.96,142.60L413.20,144.35L411.45,142.60Z" fill="#ff00ff"/><path d="M418.51,140.84L420.26,142.60L418.51,144.35L416.75,142.60Z" fill="#ff00ff"/><path d="M423.81,141.55L425.57,143.30L423.81,145.06L422.06,143.30Z" fill="#ff00ff"/><path d="M429.12,141.55L430.88,143.30L429.12,145.06L427.37,143.30Z" fill="#ff00ff"/><path d="M434.43,142.15L436.18,143.90L434.43,145.66L432.67,143.90Z" fill="#ff00ff"/><path d="M439.73,143.34L441.49,145.10L439.73,146.85L437.98,145.10Z" fill="#ff00ff"/><path d="M445.04,144.94L446.79,146.70L445.04,148.45L443.28,146.70Z" fill="#ff00ff"/><path d="M450.34,146.44L452.10,148.20L450.34,149.95L448.59,148.20Z" fill="#ff00ff"/><path d="M455.65,147.05L457.40,148.80L455.65,150.56L453.89,148.80Z" fill="#ff00ff"/><path d="M460.96,148.65L462.71,150.40L460.96,152.16L459.20,150.40Z" fill="#ff00ff"/><path d="M466.26,149.75L468.02,151.50L466.26,153.25L464.51,151.50Z" fill="#ff00ff"/><path d="M471.57,148.65L473.32,150.40L471.57,152.16L469.81,150.40Z" fill="#ff00ff"/><path d="M476.87,150.25L478.63,152.00L476.87,153.75L475.12,152.00Z" fill="#ff00ff"/><path d="M482.18,150.15L483.93,151.90L482.18,153.66L480.42,151.90Z" fill="#ff00ff"/><path d="M487.49,148.65L489.24,150.40L487.49,152.16L485.73,150.40Z" fill="#ff00ff"/><path d="M492.79,149.25L494.55,151.00L492.79,152.75L491.04,151.00Z" fill="#ff00ff"/><path d="M498.10,150.84L499.85,152.60L498.10,154.35L496.34,152.60Z" fill="#ff00ff"/><path d="M503.40,150.84L505.16,152.60L503.40,154.35L501.65,152.60Z" fill="#ff00ff"/><path d="M508.71,150.84L510.46,152.60L508.71,154.35L506.95,152.60Z" fill="#ff00ff"/><path d="M514.02,150.84L515.77,152.60L514.02,154.35L512.26,152.60Z" fill="#ff00ff"/>
<rect x="307.25" y="2.50" width="223.00" height="179.40" fill="none" stroke="#000" stroke-width="1.40"/>
<line x1="323.00" y1="181.90" x2="323.00" y2="178.70" stroke="#000" stroke-width="1.10"/><line x1="354.84" y1="181.90" x2="354.84" y2="178.70" stroke="#000" stroke-width="1.10"/><line x1="386.68" y1="181.90" x2="386.68" y2="178.70" stroke="#000" stroke-width="1.10"/><line x1="418.52" y1="181.90" x2="418.52" y2="178.70" stroke="#000" stroke-width="1.10"/><line x1="450.36" y1="181.90" x2="450.36" y2="178.70" stroke="#000" stroke-width="1.10"/><line x1="482.20" y1="181.90" x2="482.20" y2="178.70" stroke="#000" stroke-width="1.10"/><line x1="514.04" y1="181.90" x2="514.04" y2="178.70" stroke="#000" stroke-width="1.10"/><line x1="338.92" y1="181.90" x2="338.92" y2="180.10" stroke="#000" stroke-width="1.10"/><line x1="370.76" y1="181.90" x2="370.76" y2="180.10" stroke="#000" stroke-width="1.10"/><line x1="402.60" y1="181.90" x2="402.60" y2="180.10" stroke="#000" stroke-width="1.10"/><line x1="434.44" y1="181.90" x2="434.44" y2="180.10" stroke="#000" stroke-width="1.10"/><line x1="466.28" y1="181.90" x2="466.28" y2="180.10" stroke="#000" stroke-width="1.10"/><line x1="498.12" y1="181.90" x2="498.12" y2="180.10" stroke="#000" stroke-width="1.10"/>
<line x1="307.25" y1="32.40" x2="310.45" y2="32.40" stroke="#000" stroke-width="1.10"/><line x1="307.25" y1="92.30" x2="310.45" y2="92.30" stroke="#000" stroke-width="1.10"/><line x1="307.25" y1="152.20" x2="310.45" y2="152.20" stroke="#000" stroke-width="1.10"/><line x1="307.25" y1="62.35" x2="309.05" y2="62.35" stroke="#000" stroke-width="1.10"/><line x1="307.25" y1="122.25" x2="309.05" y2="122.25" stroke="#000" stroke-width="1.10"/>
<text x="323.00" y="194.40" font-size="10.10" font-weight="bold" font-style="normal" text-anchor="middle" >0</text>
<text x="354.84" y="194.40" font-size="10.10" font-weight="bold" font-style="normal" text-anchor="middle" >60</text>
<text x="386.68" y="194.40" font-size="10.10" font-weight="bold" font-style="normal" text-anchor="middle" >120</text>
<text x="418.52" y="194.40" font-size="10.10" font-weight="bold" font-style="normal" text-anchor="middle" >180</text>
<text x="450.36" y="194.40" font-size="10.10" font-weight="bold" font-style="normal" text-anchor="middle" >240</text>
<text x="482.20" y="194.40" font-size="10.10" font-weight="bold" font-style="normal" text-anchor="middle" >300</text>
<text x="514.04" y="194.40" font-size="10.10" font-weight="bold" font-style="normal" text-anchor="middle" >360</text>
<text x="303.40" y="35.90" font-size="10.10" font-weight="bold" font-style="normal" text-anchor="end" >3.2</text>
<text x="303.40" y="95.80" font-size="10.10" font-weight="bold" font-style="normal" text-anchor="end" >1.6</text>
<text x="303.40" y="155.70" font-size="10.10" font-weight="bold" font-style="normal" text-anchor="end" >0.0</text>
<text x="418.40" y="203.40" font-size="10.40" font-weight="bold" font-style="normal" text-anchor="middle" ><tspan font-style="italic">β</tspan>(deg)</text>
<text x="314.00" y="18.60" font-size="16.40" font-weight="bold" font-style="normal" text-anchor="start" >(b)</text>
<line x1="334.70" y1="13.30" x2="353.60" y2="13.30" stroke="#000000" stroke-width="1.25"/><rect x="342.95" y="12.10" width="2.40" height="2.40" fill="#000000"/><text x="355.40" y="16.30" font-size="8.40" font-weight="bold" font-style="normal" text-anchor="start" >5K</text><line x1="366.60" y1="13.30" x2="385.90" y2="13.30" stroke="#ff0000" stroke-width="1.25"/><circle cx="376.25" cy="13.30" r="1.26" fill="#ff0000"/><text x="387.30" y="16.30" font-size="8.40" font-weight="bold" font-style="normal" text-anchor="start" >50K</text><line x1="403.20" y1="13.30" x2="422.00" y2="13.30" stroke="#a8a8a8" stroke-width="1.25"/><path d="M412.60,11.74L414.04,14.26L411.16,14.26Z" fill="#a8a8a8"/><text x="423.80" y="16.30" font-size="8.40" font-weight="bold" font-style="normal" text-anchor="start" >100K</text><line x1="442.50" y1="13.30" x2="462.80" y2="13.30" stroke="#0000ff" stroke-width="1.25"/><path d="M452.65,14.86L454.09,12.34L451.21,12.34Z" fill="#0000ff"/><text x="464.00" y="16.30" font-size="8.40" font-weight="bold" font-style="normal" text-anchor="start" >150K</text><line x1="483.40" y1="13.30" x2="502.60" y2="13.30" stroke="#ff00ff" stroke-width="1.25"/><path d="M493.00,11.74L494.56,13.30L493.00,14.86L491.44,13.30Z" fill="#ff00ff"/><text x="504.20" y="16.30" font-size="8.40" font-weight="bold" font-style="normal" text-anchor="start" >300K</text>
<text class="yl" transform="translate(283.90,92.50) rotate(-90)" font-size="11.00" font-weight="bold" text-anchor="middle" letter-spacing="0.35"><tspan font-weight="normal">Δρ</tspan><tspan font-size="8.80" dy="3.08">xx</tspan><tspan font-weight="normal" dy="-3.08">/ρ</tspan><tspan font-size="8.80" dy="3.08">xx</tspan><tspan dy="-3.08">(10</tspan><tspan font-size="7.04" dy="-5.28">-3</tspan><tspan dy="5.28">)</tspan></text>
<path d="M60.00,235.20 C60.84,236.25 63.35,238.45 65.02,241.50 C66.70,244.55 68.37,249.00 70.04,253.50 C71.72,258.00 73.39,262.50 75.07,268.50 C76.74,274.50 78.41,282.58 80.09,289.50 C81.76,296.42 83.44,302.33 85.11,310.00 C86.78,317.67 88.46,328.25 90.13,335.50 C91.81,342.75 93.48,348.00 95.15,353.50 C96.83,359.00 98.50,365.00 100.18,368.50 C101.85,372.00 103.52,374.75 105.20,374.50 C106.87,374.25 108.55,370.92 110.22,367.00 C111.89,363.08 113.57,356.42 115.24,351.00 C116.92,345.58 118.59,341.75 120.26,334.50 C121.94,327.25 123.61,315.17 125.29,307.50 C126.96,299.83 128.63,295.00 130.31,288.50 C131.98,282.00 133.66,274.92 135.33,268.50 C137.00,262.08 138.68,255.00 140.35,250.00 C142.03,245.00 143.70,241.50 145.37,238.50 C147.05,235.50 148.72,233.03 150.40,232.00 C152.07,230.97 153.74,231.38 155.42,232.30 C157.09,233.22 158.77,234.88 160.44,237.50 C162.11,240.12 163.79,243.42 165.46,248.00 C167.14,252.58 168.81,259.08 170.48,265.00 C172.16,270.92 173.83,276.08 175.51,283.50 C177.18,290.92 178.85,301.25 180.53,309.50 C182.20,317.75 183.88,325.92 185.55,333.00 C187.22,340.08 188.90,346.17 190.57,352.00 C192.25,357.83 193.92,364.67 195.59,368.00 C197.27,371.33 198.94,372.33 200.62,372.00 C202.29,371.67 203.96,368.83 205.64,366.00 C207.31,363.17 208.99,360.25 210.66,355.00 C212.33,349.75 214.01,342.50 215.68,334.50 C217.36,326.50 219.03,316.50 220.70,307.00 C222.38,297.50 224.05,285.58 225.73,277.50 C227.40,269.42 229.07,264.08 230.75,258.50 C232.42,252.92 234.10,247.33 235.77,244.00 C237.44,240.67 239.96,239.42 240.79,238.50" fill="none" stroke="#000000" stroke-width="1.40" stroke-linejoin="round"/><rect x="58.65" y="233.85" width="2.70" height="2.70" fill="#000000"/><rect x="63.67" y="240.15" width="2.70" height="2.70" fill="#000000"/><rect x="68.69" y="252.15" width="2.70" height="2.70" fill="#000000"/><rect x="73.72" y="267.15" width="2.70" height="2.70" fill="#000000"/><rect x="78.74" y="288.15" width="2.70" height="2.70" fill="#000000"/><rect x="83.76" y="308.65" width="2.70" height="2.70" fill="#000000"/><rect x="88.78" y="334.15" width="2.70" height="2.70" fill="#000000"/><rect x="93.80" y="352.15" width="2.70" height="2.70" fill="#000000"/><rect x="98.83" y="367.15" width="2.70" height="2.70" fill="#000000"/><rect x="103.85" y="373.15" width="2.70" height="2.70" fill="#000000"/><rect x="108.87" y="365.65" width="2.70" height="2.70" fill="#000000"/><rect x="113.89" y="349.65" width="2.70" height="2.70" fill="#000000"/><rect x="118.91" y="333.15" width="2.70" height="2.70" fill="#000000"/><rect x="123.94" y="306.15" width="2.70" height="2.70" fill="#000000"/><rect x="128.96" y="287.15" width="2.70" height="2.70" fill="#000000"/><rect x="133.98" y="267.15" width="2.70" height="2.70" fill="#000000"/><rect x="139.00" y="248.65" width="2.70" height="2.70" fill="#000000"/><rect x="144.02" y="237.15" width="2.70" height="2.70" fill="#000000"/><rect x="149.05" y="230.65" width="2.70" height="2.70" fill="#000000"/><rect x="154.07" y="230.95" width="2.70" height="2.70" fill="#000000"/><rect x="159.09" y="236.15" width="2.70" height="2.70" fill="#000000"/><rect x="164.11" y="246.65" width="2.70" height="2.70" fill="#000000"/><rect x="169.13" y="263.65" width="2.70" height="2.70" fill="#000000"/><rect x="174.16" y="282.15" width="2.70" height="2.70" fill="#000000"/><rect x="179.18" y="308.15" width="2.70" height="2.70" fill="#000000"/><rect x="184.20" y="331.65" width="2.70" height="2.70" fill="#000000"/><rect x="189.22" y="350.65" width="2.70" height="2.70" fill="#000000"/><rect x="194.24" y="366.65" width="2.70" height="2.70" fill="#000000"/><rect x="199.27" y="370.65" width="2.70" height="2.70" fill="#000000"/><rect x="204.29" y="364.65" width="2.70" height="2.70" fill="#000000"/><rect x="209.31" y="353.65" width="2.70" height="2.70" fill="#000000"/><rect x="214.33" y="333.15" width="2.70" height="2.70" fill="#000000"/><rect x="219.35" y="305.65" width="2.70" height="2.70" fill="#000000"/><rect x="224.38" y="276.15" width="2.70" height="2.70" fill="#000000"/><rect x="229.40" y="257.15" width="2.70" height="2.70" fill="#000000"/><rect x="234.42" y="242.65" width="2.70" height="2.70" fill="#000000"/><rect x="239.44" y="237.15" width="2.70" height="2.70" fill="#000000"/><path d="M60.00,279.40 C60.84,279.72 63.35,279.62 65.02,281.30 C66.70,282.98 68.37,285.63 70.04,289.50 C71.72,293.37 73.39,299.22 75.07,304.50 C76.74,309.78 78.41,315.78 80.09,321.20 C81.76,326.62 83.44,332.13 85.11,337.00 C86.78,341.87 88.46,346.15 90.13,350.40 C91.81,354.65 93.48,359.02 95.15,362.50 C96.83,365.98 98.50,369.30 100.18,371.30 C101.85,373.30 103.52,375.22 105.20,374.50 C106.87,373.78 108.55,370.00 110.22,367.00 C111.89,364.00 113.57,360.33 115.24,356.50 C116.92,352.67 118.59,348.58 120.26,344.00 C121.94,339.42 123.61,334.58 125.29,329.00 C126.96,323.42 128.63,316.00 130.31,310.50 C131.98,305.00 133.66,299.83 135.33,296.00 C137.00,292.17 138.68,290.25 140.35,287.50 C142.03,284.75 143.70,281.55 145.37,279.50 C147.05,277.45 148.72,275.48 150.40,275.20 C152.07,274.92 153.74,276.03 155.42,277.80 C157.09,279.57 158.77,282.63 160.44,285.80 C162.11,288.97 163.79,293.35 165.46,296.80 C167.14,300.25 168.81,301.63 170.48,306.50 C172.16,311.37 173.83,320.12 175.51,326.00 C177.18,331.88 178.85,337.22 180.53,341.80 C182.20,346.38 183.88,349.47 185.55,353.50 C187.22,357.53 188.90,363.00 190.57,366.00 C192.25,369.00 193.92,370.45 195.59,371.50 C197.27,372.55 198.94,373.08 200.62,372.30 C202.29,371.52 203.96,370.10 205.64,366.80 C207.31,363.50 208.99,356.88 210.66,352.50 C212.33,348.12 214.01,345.42 215.68,340.50 C217.36,335.58 219.03,328.75 220.70,323.00 C222.38,317.25 224.05,311.33 225.73,306.00 C227.40,300.67 229.07,294.92 230.75,291.00 C232.42,287.08 234.10,284.83 235.77,282.50 C237.44,280.17 239.96,277.92 240.79,277.00" fill="none" stroke="#ff0000" stroke-width="1.40" stroke-linejoin="round"/><circle cx="60.00" cy="279.40" r="1.42" fill="#ff0000"/><circle cx="65.02" cy="281.30" r="1.42" fill="#ff0000"/><circle cx="70.04" cy="289.50" r="1.42" fill="#ff0000"/><circle cx="75.07" cy="304.50" r="1.42" fill="#ff0000"/><circle cx="80.09" cy="321.20" r="1.42" fill="#ff0000"/><circle cx="85.11" cy="337.00" r="1.42" fill="#ff0000"/><circle cx="90.13" cy="350.40" r="1.42" fill="#ff0000"/><circle cx="95.15" cy="362.50" r="1.42" fill="#ff0000"/><circle cx="100.18" cy="371.30" r="1.42" fill="#ff0000"/><circle cx="105.20" cy="374.50" r="1.42" fill="#ff0000"/><circle cx="110.22" cy="367.00" r="1.42" fill="#ff0000"/><circle cx="115.24" cy="356.50" r="1.42" fill="#ff0000"/><circle cx="120.26" cy="344.00" r="1.42" fill="#ff0000"/><circle cx="125.29" cy="329.00" r="1.42" fill="#ff0000"/><circle cx="130.31" cy="310.50" r="1.42" fill="#ff0000"/><circle cx="135.33" cy="296.00" r="1.42" fill="#ff0000"/><circle cx="140.35" cy="287.50" r="1.42" fill="#ff0000"/><circle cx="145.37" cy="279.50" r="1.42" fill="#ff0000"/><circle cx="150.40" cy="275.20" r="1.42" fill="#ff0000"/><circle cx="155.42" cy="277.80" r="1.42" fill="#ff0000"/><circle cx="160.44" cy="285.80" r="1.42" fill="#ff0000"/><circle cx="165.46" cy="296.80" r="1.42" fill="#ff0000"/><circle cx="170.48" cy="306.50" r="1.42" fill="#ff0000"/><circle cx="175.51" cy="326.00" r="1.42" fill="#ff0000"/><circle cx="180.53" cy="341.80" r="1.42" fill="#ff0000"/><circle cx="185.55" cy="353.50" r="1.42" fill="#ff0000"/><circle cx="190.57" cy="366.00" r="1.42" fill="#ff0000"/><circle cx="195.59" cy="371.50" r="1.42" fill="#ff0000"/><circle cx="200.62" cy="372.30" r="1.42" fill="#ff0000"/><circle cx="205.64" cy="366.80" r="1.42" fill="#ff0000"/><circle cx="210.66" cy="352.50" r="1.42" fill="#ff0000"/><circle cx="215.68" cy="340.50" r="1.42" fill="#ff0000"/><circle cx="220.70" cy="323.00" r="1.42" fill="#ff0000"/><circle cx="225.73" cy="306.00" r="1.42" fill="#ff0000"/><circle cx="230.75" cy="291.00" r="1.42" fill="#ff0000"/><circle cx="235.77" cy="282.50" r="1.42" fill="#ff0000"/><circle cx="240.79" cy="277.00" r="1.42" fill="#ff0000"/><path d="M60.00,327.00 C60.84,327.20 63.35,327.42 65.02,328.20 C66.70,328.98 68.37,330.43 70.04,331.70 C71.72,332.97 73.39,333.92 75.07,335.80 C76.74,337.68 78.41,340.38 80.09,343.00 C81.76,345.62 83.44,348.92 85.11,351.50 C86.78,354.08 88.46,356.08 90.13,358.50 C91.81,360.92 93.48,363.75 95.15,366.00 C96.83,368.25 98.50,370.58 100.18,372.00 C101.85,373.42 103.52,374.67 105.20,374.50 C106.87,374.33 108.55,372.75 110.22,371.00 C111.89,369.25 113.57,366.50 115.24,364.00 C116.92,361.50 118.59,358.58 120.26,356.00 C121.94,353.42 123.61,351.00 125.29,348.50 C126.96,346.00 128.63,343.33 130.31,341.00 C131.98,338.67 133.66,336.25 135.33,334.50 C137.00,332.75 138.68,331.62 140.35,330.50 C142.03,329.38 143.70,328.38 145.37,327.80 C147.05,327.22 148.72,326.87 150.40,327.00 C152.07,327.13 153.74,327.60 155.42,328.60 C157.09,329.60 158.77,331.35 160.44,333.00 C162.11,334.65 163.79,336.47 165.46,338.50 C167.14,340.53 168.81,342.37 170.48,345.20 C172.16,348.03 173.83,352.53 175.51,355.50 C177.18,358.47 178.85,360.75 180.53,363.00 C182.20,365.25 183.88,367.58 185.55,369.00 C187.22,370.42 188.90,370.83 190.57,371.50 C192.25,372.17 193.92,372.53 195.59,373.00 C197.27,373.47 198.94,374.05 200.62,374.30 C202.29,374.55 203.96,375.47 205.64,374.50 C207.31,373.53 208.99,371.92 210.66,368.50 C212.33,365.08 214.01,358.08 215.68,354.00 C217.36,349.92 219.03,347.00 220.70,344.00 C222.38,341.00 224.05,338.08 225.73,336.00 C227.40,333.92 229.07,332.83 230.75,331.50 C232.42,330.17 234.10,328.80 235.77,328.00 C237.44,327.20 239.96,326.92 240.79,326.70" fill="none" stroke="#a8a8a8" stroke-width="1.40" stroke-linejoin="round"/><path d="M60.00,325.25L61.62,328.08L58.38,328.08Z" fill="#a8a8a8"/><path d="M65.02,326.44L66.64,329.28L63.40,329.28Z" fill="#a8a8a8"/><path d="M70.04,329.94L71.66,332.78L68.42,332.78Z" fill="#a8a8a8"/><path d="M75.07,334.05L76.69,336.88L73.45,336.88Z" fill="#a8a8a8"/><path d="M80.09,341.25L81.71,344.08L78.47,344.08Z" fill="#a8a8a8"/><path d="M85.11,349.75L86.73,352.58L83.49,352.58Z" fill="#a8a8a8"/><path d="M90.13,356.75L91.75,359.58L88.51,359.58Z" fill="#a8a8a8"/><path d="M95.15,364.25L96.77,367.08L93.53,367.08Z" fill="#a8a8a8"/><path d="M100.18,370.25L101.80,373.08L98.56,373.08Z" fill="#a8a8a8"/><path d="M105.20,372.75L106.82,375.58L103.58,375.58Z" fill="#a8a8a8"/><path d="M110.22,369.25L111.84,372.08L108.60,372.08Z" fill="#a8a8a8"/><path d="M115.24,362.25L116.86,365.08L113.62,365.08Z" fill="#a8a8a8"/><path d="M120.26,354.25L121.88,357.08L118.64,357.08Z" fill="#a8a8a8"/><path d="M125.29,346.75L126.91,349.58L123.67,349.58Z" fill="#a8a8a8"/><path d="M130.31,339.25L131.93,342.08L128.69,342.08Z" fill="#a8a8a8"/><path d="M135.33,332.75L136.95,335.58L133.71,335.58Z" fill="#a8a8a8"/><path d="M140.35,328.75L141.97,331.58L138.73,331.58Z" fill="#a8a8a8"/><path d="M145.37,326.05L146.99,328.88L143.75,328.88Z" fill="#a8a8a8"/><path d="M150.40,325.25L152.02,328.08L148.78,328.08Z" fill="#a8a8a8"/><path d="M155.42,326.85L157.04,329.68L153.80,329.68Z" fill="#a8a8a8"/><path d="M160.44,331.25L162.06,334.08L158.82,334.08Z" fill="#a8a8a8"/><path d="M165.46,336.75L167.08,339.58L163.84,339.58Z" fill="#a8a8a8"/><path d="M170.48,343.44L172.10,346.28L168.86,346.28Z" fill="#a8a8a8"/><path d="M175.51,353.75L177.13,356.58L173.89,356.58Z" fill="#a8a8a8"/><path d="M180.53,361.25L182.15,364.08L178.91,364.08Z" fill="#a8a8a8"/><path d="M185.55,367.25L187.17,370.08L183.93,370.08Z" fill="#a8a8a8"/><path d="M190.57,369.75L192.19,372.58L188.95,372.58Z" fill="#a8a8a8"/><path d="M195.59,371.25L197.21,374.08L193.97,374.08Z" fill="#a8a8a8"/><path d="M200.62,372.55L202.24,375.38L199.00,375.38Z" fill="#a8a8a8"/><path d="M205.64,372.75L207.26,375.58L204.02,375.58Z" fill="#a8a8a8"/><path d="M210.66,366.75L212.28,369.58L209.04,369.58Z" fill="#a8a8a8"/><path d="M215.68,352.25L217.30,355.08L214.06,355.08Z" fill="#a8a8a8"/><path d="M220.70,342.25L222.32,345.08L219.08,345.08Z" fill="#a8a8a8"/><path d="M225.73,334.25L227.35,337.08L224.11,337.08Z" fill="#a8a8a8"/><path d="M230.75,329.75L232.37,332.58L229.13,332.58Z" fill="#a8a8a8"/><path d="M235.77,326.25L237.39,329.08L234.15,329.08Z" fill="#a8a8a8"/><path d="M240.79,324.94L242.41,327.78L239.17,327.78Z" fill="#a8a8a8"/><path d="M60.00,344.40 C60.84,345.00 63.35,347.12 65.02,348.00 C66.70,348.88 68.37,348.70 70.04,349.70 C71.72,350.70 73.39,352.37 75.07,354.00 C76.74,355.63 78.41,357.47 80.09,359.50 C81.76,361.53 83.44,364.20 85.11,366.20 C86.78,368.20 88.46,370.25 90.13,371.50 C91.81,372.75 93.48,373.05 95.15,373.70 C96.83,374.35 98.50,375.18 100.18,375.40 C101.85,375.62 103.52,375.52 105.20,375.00 C106.87,374.48 108.55,373.52 110.22,372.30 C111.89,371.08 113.57,368.95 115.24,367.70 C116.92,366.45 118.59,366.10 120.26,364.80 C121.94,363.50 123.61,361.53 125.29,359.90 C126.96,358.27 128.63,356.82 130.31,355.00 C131.98,353.18 133.66,350.87 135.33,349.00 C137.00,347.13 138.68,345.03 140.35,343.80 C142.03,342.57 143.70,341.97 145.37,341.60 C147.05,341.23 148.72,341.37 150.40,341.60 C152.07,341.83 153.74,342.27 155.42,343.00 C157.09,343.73 158.77,345.00 160.44,346.00 C162.11,347.00 163.79,347.58 165.46,349.00 C167.14,350.42 168.81,352.17 170.48,354.50 C172.16,356.83 173.83,360.67 175.51,363.00 C177.18,365.33 178.85,367.08 180.53,368.50 C182.20,369.92 183.88,370.58 185.55,371.50 C187.22,372.42 188.90,373.48 190.57,374.00 C192.25,374.52 193.92,374.45 195.59,374.60 C197.27,374.75 198.94,374.33 200.62,374.90 C202.29,375.47 203.96,378.15 205.64,378.00 C207.31,377.85 208.99,375.75 210.66,374.00 C212.33,372.25 214.01,369.83 215.68,367.50 C217.36,365.17 219.03,362.13 220.70,360.00 C222.38,357.87 224.05,356.45 225.73,354.70 C227.40,352.95 229.07,350.68 230.75,349.50 C232.42,348.32 234.10,348.38 235.77,347.60 C237.44,346.82 239.96,345.27 240.79,344.80" fill="none" stroke="#0000ff" stroke-width="1.40" stroke-linejoin="round"/><path d="M60.00,346.15L61.62,343.32L58.38,343.32Z" fill="#0000ff"/><path d="M65.02,349.75L66.64,346.92L63.40,346.92Z" fill="#0000ff"/><path d="M70.04,351.45L71.66,348.62L68.42,348.62Z" fill="#0000ff"/><path d="M75.07,355.75L76.69,352.92L73.45,352.92Z" fill="#0000ff"/><path d="M80.09,361.25L81.71,358.42L78.47,358.42Z" fill="#0000ff"/><path d="M85.11,367.95L86.73,365.12L83.49,365.12Z" fill="#0000ff"/><path d="M90.13,373.25L91.75,370.42L88.51,370.42Z" fill="#0000ff"/><path d="M95.15,375.45L96.77,372.62L93.53,372.62Z" fill="#0000ff"/><path d="M100.18,377.15L101.80,374.32L98.56,374.32Z" fill="#0000ff"/><path d="M105.20,376.75L106.82,373.92L103.58,373.92Z" fill="#0000ff"/><path d="M110.22,374.06L111.84,371.22L108.60,371.22Z" fill="#0000ff"/><path d="M115.24,369.45L116.86,366.62L113.62,366.62Z" fill="#0000ff"/><path d="M120.26,366.56L121.88,363.72L118.64,363.72Z" fill="#0000ff"/><path d="M125.29,361.65L126.91,358.82L123.67,358.82Z" fill="#0000ff"/><path d="M130.31,356.75L131.93,353.92L128.69,353.92Z" fill="#0000ff"/><path d="M135.33,350.75L136.95,347.92L133.71,347.92Z" fill="#0000ff"/><path d="M140.35,345.56L141.97,342.72L138.73,342.72Z" fill="#0000ff"/><path d="M145.37,343.36L146.99,340.52L143.75,340.52Z" fill="#0000ff"/><path d="M150.40,343.36L152.02,340.52L148.78,340.52Z" fill="#0000ff"/><path d="M155.42,344.75L157.04,341.92L153.80,341.92Z" fill="#0000ff"/><path d="M160.44,347.75L162.06,344.92L158.82,344.92Z" fill="#0000ff"/><path d="M165.46,350.75L167.08,347.92L163.84,347.92Z" fill="#0000ff"/><path d="M170.48,356.25L172.10,353.42L168.86,353.42Z" fill="#0000ff"/><path d="M175.51,364.75L177.13,361.92L173.89,361.92Z" fill="#0000ff"/><path d="M180.53,370.25L182.15,367.42L178.91,367.42Z" fill="#0000ff"/><path d="M185.55,373.25L187.17,370.42L183.93,370.42Z" fill="#0000ff"/><path d="M190.57,375.75L192.19,372.92L188.95,372.92Z" fill="#0000ff"/><path d="M195.59,376.36L197.21,373.52L193.97,373.52Z" fill="#0000ff"/><path d="M200.62,376.65L202.24,373.82L199.00,373.82Z" fill="#0000ff"/><path d="M205.64,379.75L207.26,376.92L204.02,376.92Z" fill="#0000ff"/><path d="M210.66,375.75L212.28,372.92L209.04,372.92Z" fill="#0000ff"/><path d="M215.68,369.25L217.30,366.42L214.06,366.42Z" fill="#0000ff"/><path d="M220.70,361.75L222.32,358.92L219.08,358.92Z" fill="#0000ff"/><path d="M225.73,356.45L227.35,353.62L224.11,353.62Z" fill="#0000ff"/><path d="M230.75,351.25L232.37,348.42L229.13,348.42Z" fill="#0000ff"/><path d="M235.77,349.36L237.39,346.52L234.15,346.52Z" fill="#0000ff"/><path d="M240.79,346.56L242.41,343.72L239.17,343.72Z" fill="#0000ff"/><path d="M60.00,370.00 C60.84,370.00 63.35,370.00 65.02,370.00 C66.70,370.00 68.37,370.25 70.04,370.00 C71.72,369.75 73.39,368.67 75.07,368.50 C76.74,368.33 78.41,368.75 80.09,369.00 C81.76,369.25 83.44,369.53 85.11,370.00 C86.78,370.47 88.46,371.28 90.13,371.80 C91.81,372.32 93.48,372.68 95.15,373.10 C96.83,373.52 98.50,374.05 100.18,374.30 C101.85,374.55 103.52,374.70 105.20,374.60 C106.87,374.50 108.55,373.88 110.22,373.70 C111.89,373.52 113.57,373.65 115.24,373.50 C116.92,373.35 118.59,373.22 120.26,372.80 C121.94,372.38 123.61,371.63 125.29,371.00 C126.96,370.37 128.63,369.63 130.31,369.00 C131.98,368.37 133.66,367.87 135.33,367.20 C137.00,366.53 138.68,365.73 140.35,365.00 C142.03,364.27 143.70,363.50 145.37,362.80 C147.05,362.10 148.72,361.08 150.40,360.80 C152.07,360.52 153.74,360.97 155.42,361.10 C157.09,361.23 158.77,361.37 160.44,361.60 C162.11,361.83 163.79,362.05 165.46,362.50 C167.14,362.95 168.81,363.68 170.48,364.30 C172.16,364.92 173.83,365.47 175.51,366.20 C177.18,366.93 178.85,368.07 180.53,368.70 C182.20,369.33 183.88,369.63 185.55,370.00 C187.22,370.37 188.90,370.60 190.57,370.90 C192.25,371.20 193.92,371.23 195.59,371.80 C197.27,372.37 198.94,373.67 200.62,374.30 C202.29,374.93 203.96,375.50 205.64,375.60 C207.31,375.70 208.99,375.22 210.66,374.90 C212.33,374.58 214.01,374.13 215.68,373.70 C217.36,373.27 219.03,372.70 220.70,372.30 C222.38,371.90 224.05,371.63 225.73,371.30 C227.40,370.97 229.07,370.57 230.75,370.30 C232.42,370.03 234.10,369.93 235.77,369.70 C237.44,369.47 239.96,369.03 240.79,368.90" fill="none" stroke="#ff00ff" stroke-width="1.40" stroke-linejoin="round"/><path d="M60.00,368.25L61.76,370.00L60.00,371.75L58.24,370.00Z" fill="#ff00ff"/><path d="M65.02,368.25L66.78,370.00L65.02,371.75L63.27,370.00Z" fill="#ff00ff"/><path d="M70.04,368.25L71.80,370.00L70.04,371.75L68.29,370.00Z" fill="#ff00ff"/><path d="M75.07,366.75L76.82,368.50L75.07,370.25L73.31,368.50Z" fill="#ff00ff"/><path d="M80.09,367.25L81.84,369.00L80.09,370.75L78.33,369.00Z" fill="#ff00ff"/><path d="M85.11,368.25L86.86,370.00L85.11,371.75L83.36,370.00Z" fill="#ff00ff"/><path d="M90.13,370.05L91.89,371.80L90.13,373.56L88.38,371.80Z" fill="#ff00ff"/><path d="M95.15,371.35L96.91,373.10L95.15,374.86L93.40,373.10Z" fill="#ff00ff"/><path d="M100.18,372.55L101.93,374.30L100.18,376.06L98.42,374.30Z" fill="#ff00ff"/><path d="M105.20,372.85L106.95,374.60L105.20,376.36L103.44,374.60Z" fill="#ff00ff"/><path d="M110.22,371.94L111.97,373.70L110.22,375.45L108.47,373.70Z" fill="#ff00ff"/><path d="M115.24,371.75L117.00,373.50L115.24,375.25L113.49,373.50Z" fill="#ff00ff"/><path d="M120.26,371.05L122.02,372.80L120.26,374.56L118.51,372.80Z" fill="#ff00ff"/><path d="M125.29,369.25L127.04,371.00L125.29,372.75L123.53,371.00Z" fill="#ff00ff"/><path d="M130.31,367.25L132.06,369.00L130.31,370.75L128.55,369.00Z" fill="#ff00ff"/><path d="M135.33,365.44L137.08,367.20L135.33,368.95L133.57,367.20Z" fill="#ff00ff"/><path d="M140.35,363.25L142.11,365.00L140.35,366.75L138.60,365.00Z" fill="#ff00ff"/><path d="M145.37,361.05L147.13,362.80L145.37,364.56L143.62,362.80Z" fill="#ff00ff"/><path d="M150.40,359.05L152.15,360.80L150.40,362.56L148.64,360.80Z" fill="#ff00ff"/><path d="M155.42,359.35L157.17,361.10L155.42,362.86L153.66,361.10Z" fill="#ff00ff"/><path d="M160.44,359.85L162.19,361.60L160.44,363.36L158.69,361.60Z" fill="#ff00ff"/><path d="M165.46,360.75L167.22,362.50L165.46,364.25L163.71,362.50Z" fill="#ff00ff"/><path d="M170.48,362.55L172.24,364.30L170.48,366.06L168.73,364.30Z" fill="#ff00ff"/><path d="M175.51,364.44L177.26,366.20L175.51,367.95L173.75,366.20Z" fill="#ff00ff"/><path d="M180.53,366.94L182.28,368.70L180.53,370.45L178.77,368.70Z" fill="#ff00ff"/><path d="M185.55,368.25L187.31,370.00L185.55,371.75L183.80,370.00Z" fill="#ff00ff"/><path d="M190.57,369.14L192.33,370.90L190.57,372.65L188.82,370.90Z" fill="#ff00ff"/><path d="M195.59,370.05L197.35,371.80L195.59,373.56L193.84,371.80Z" fill="#ff00ff"/><path d="M200.62,372.55L202.37,374.30L200.62,376.06L198.86,374.30Z" fill="#ff00ff"/><path d="M205.64,373.85L207.39,375.60L205.64,377.36L203.88,375.60Z" fill="#ff00ff"/><path d="M210.66,373.14L212.41,374.90L210.66,376.65L208.91,374.90Z" fill="#ff00ff"/><path d="M215.68,371.94L217.44,373.70L215.68,375.45L213.93,373.70Z" fill="#ff00ff"/><path d="M220.70,370.55L222.46,372.30L220.70,374.06L218.95,372.30Z" fill="#ff00ff"/><path d="M225.73,369.55L227.48,371.30L225.73,373.06L223.97,371.30Z" fill="#ff00ff"/><path d="M230.75,368.55L232.50,370.30L230.75,372.06L228.99,370.30Z" fill="#ff00ff"/><path d="M235.77,367.94L237.53,369.70L235.77,371.45L234.02,369.70Z" fill="#ff00ff"/><path d="M240.79,367.14L242.55,368.90L240.79,370.65L239.04,368.90Z" fill="#ff00ff"/>
<rect x="38.00" y="214.90" width="225.85" height="182.00" fill="none" stroke="#000" stroke-width="1.40"/>
<line x1="60.00" y1="396.90" x2="60.00" y2="393.70" stroke="#000" stroke-width="1.10"/><line x1="105.20" y1="396.90" x2="105.20" y2="393.70" stroke="#000" stroke-width="1.10"/><line x1="150.40" y1="396.90" x2="150.40" y2="393.70" stroke="#000" stroke-width="1.10"/><line x1="195.60" y1="396.90" x2="195.60" y2="393.70" stroke="#000" stroke-width="1.10"/><line x1="240.80" y1="396.90" x2="240.80" y2="393.70" stroke="#000" stroke-width="1.10"/><line x1="82.60" y1="396.90" x2="82.60" y2="395.10" stroke="#000" stroke-width="1.10"/><line x1="127.80" y1="396.90" x2="127.80" y2="395.10" stroke="#000" stroke-width="1.10"/><line x1="173.00" y1="396.90" x2="173.00" y2="395.10" stroke="#000" stroke-width="1.10"/><line x1="218.20" y1="396.90" x2="218.20" y2="395.10" stroke="#000" stroke-width="1.10"/>
<line x1="38.00" y1="237.00" x2="41.20" y2="237.00" stroke="#000" stroke-width="1.10"/><line x1="38.00" y1="282.70" x2="41.20" y2="282.70" stroke="#000" stroke-width="1.10"/><line x1="38.00" y1="328.50" x2="41.20" y2="328.50" stroke="#000" stroke-width="1.10"/><line x1="38.00" y1="374.20" x2="41.20" y2="374.20" stroke="#000" stroke-width="1.10"/><line x1="38.00" y1="259.85" x2="39.80" y2="259.85" stroke="#000" stroke-width="1.10"/><line x1="38.00" y1="305.60" x2="39.80" y2="305.60" stroke="#000" stroke-width="1.10"/><line x1="38.00" y1="351.35" x2="39.80" y2="351.35" stroke="#000" stroke-width="1.10"/>
<text x="60.00" y="409.30" font-size="10.10" font-weight="bold" font-style="normal" text-anchor="middle" >0</text>
<text x="105.20" y="409.30" font-size="10.10" font-weight="bold" font-style="normal" text-anchor="middle" >90</text>
<text x="150.40" y="409.30" font-size="10.10" font-weight="bold" font-style="normal" text-anchor="middle" >180</text>
<text x="195.60" y="409.30" font-size="10.10" font-weight="bold" font-style="normal" text-anchor="middle" >270</text>
<text x="240.80" y="409.30" font-size="10.10" font-weight="bold" font-style="normal" text-anchor="middle" >360</text>
<text x="34.30" y="240.50" font-size="10.10" font-weight="bold" font-style="normal" text-anchor="end" >4.8</text>
<text x="34.30" y="286.20" font-size="10.10" font-weight="bold" font-style="normal" text-anchor="end" >3.2</text>
<text x="34.30" y="332.00" font-size="10.10" font-weight="bold" font-style="normal" text-anchor="end" >1.6</text>
<text x="34.30" y="377.70" font-size="10.10" font-weight="bold" font-style="normal" text-anchor="end" >0.0</text>
<text x="151.00" y="418.40" font-size="10.40" font-weight="bold" font-style="normal" text-anchor="middle" ><tspan font-style="italic">γ</tspan>(deg)</text>
<text x="43.80" y="233.20" font-size="16.40" font-weight="bold" font-style="normal" text-anchor="start" >(c)</text>
<line x1="66.60" y1="226.00" x2="85.40" y2="226.00" stroke="#000000" stroke-width="1.25"/><rect x="74.80" y="224.80" width="2.40" height="2.40" fill="#000000"/><text x="87.70" y="229.00" font-size="8.40" font-weight="bold" font-style="normal" text-anchor="start" >5K</text><line x1="98.50" y1="226.00" x2="118.20" y2="226.00" stroke="#ff0000" stroke-width="1.25"/><circle cx="108.35" cy="226.00" r="1.26" fill="#ff0000"/><text x="119.80" y="229.00" font-size="8.40" font-weight="bold" font-style="normal" text-anchor="start" >50K</text><line x1="135.00" y1="226.00" x2="154.80" y2="226.00" stroke="#a8a8a8" stroke-width="1.25"/><path d="M144.90,224.44L146.34,226.96L143.46,226.96Z" fill="#a8a8a8"/><text x="156.80" y="229.00" font-size="8.40" font-weight="bold" font-style="normal" text-anchor="start" >100K</text><line x1="175.80" y1="226.00" x2="195.60" y2="226.00" stroke="#0000ff" stroke-width="1.25"/><path d="M185.70,227.56L187.14,225.04L184.26,225.04Z" fill="#0000ff"/><text x="197.40" y="229.00" font-size="8.40" font-weight="bold" font-style="normal" text-anchor="start" >150K</text><line x1="216.50" y1="226.00" x2="235.90" y2="226.00" stroke="#ff00ff" stroke-width="1.25"/><path d="M226.20,224.44L227.76,226.00L226.20,227.56L224.64,226.00Z" fill="#ff00ff"/><text x="237.80" y="229.00" font-size="8.40" font-weight="bold" font-style="normal" text-anchor="start" >300K</text>
<text class="yl" transform="translate(12.40,308.00) rotate(-90)" font-size="11.00" font-weight="bold" text-anchor="middle" letter-spacing="0.35"><tspan font-weight="normal">Δρ</tspan><tspan font-size="8.80" dy="3.08">xx</tspan><tspan font-weight="normal" dy="-3.08">/ρ</tspan><tspan font-size="8.80" dy="3.08">xx</tspan><tspan dy="-3.08">(10</tspan><tspan font-size="7.04" dy="-5.28">-3</tspan><tspan dy="5.28">)</tspan></text>
<path d="M337.81,326.30 L363.10,335.40 L391.20,347.80 L419.30,355.60 L503.60,367.30" fill="none" stroke="#2a2a2a" stroke-width="1.5"/>
<rect x="335.91" y="324.40" width="3.80" height="3.80" fill="#2a2a2a"/>
<rect x="361.20" y="333.50" width="3.80" height="3.80" fill="#2a2a2a"/>
<rect x="389.30" y="345.90" width="3.80" height="3.80" fill="#2a2a2a"/>
<rect x="417.40" y="353.70" width="3.80" height="3.80" fill="#2a2a2a"/>
<rect x="501.70" y="365.40" width="3.80" height="3.80" fill="#2a2a2a"/>
<path d="M337.81,281.10 L363.10,312.10 L391.20,347.30 L419.30,360.30 L503.60,367.80" fill="none" stroke="#ff1a1a" stroke-width="1.5"/>
<circle cx="337.81" cy="281.10" r="1.99" fill="#ff1a1a"/>
<circle cx="363.10" cy="312.10" r="1.99" fill="#ff1a1a"/>
<circle cx="391.20" cy="347.30" r="1.99" fill="#ff1a1a"/>
<circle cx="419.30" cy="360.30" r="1.99" fill="#ff1a1a"/>
<circle cx="503.60" cy="367.80" r="1.99" fill="#ff1a1a"/>
<path d="M337.81,232.10 L363.10,275.90 L391.20,326.80 L419.30,341.00 L503.60,360.40" fill="none" stroke="#1a5ee6" stroke-width="1.5"/>
<path d="M337.81,229.63L340.09,233.62L335.53,233.62Z" fill="#1a5ee6"/>
<path d="M363.10,273.43L365.38,277.42L360.82,277.42Z" fill="#1a5ee6"/>
<path d="M391.20,324.33L393.48,328.32L388.92,328.32Z" fill="#1a5ee6"/>
<path d="M419.30,338.53L421.58,342.52L417.02,342.52Z" fill="#1a5ee6"/>
<path d="M503.60,357.93L505.88,361.92L501.32,361.92Z" fill="#1a5ee6"/>
<rect x="307.15" y="215.40" width="223.85" height="181.30" fill="none" stroke="#000" stroke-width="1.40"/>
<line x1="335.00" y1="396.70" x2="335.00" y2="393.50" stroke="#000" stroke-width="1.10"/><line x1="391.20" y1="396.70" x2="391.20" y2="393.50" stroke="#000" stroke-width="1.10"/><line x1="447.40" y1="396.70" x2="447.40" y2="393.50" stroke="#000" stroke-width="1.10"/><line x1="503.60" y1="396.70" x2="503.60" y2="393.50" stroke="#000" stroke-width="1.10"/><line x1="363.10" y1="396.70" x2="363.10" y2="394.90" stroke="#000" stroke-width="1.10"/><line x1="419.30" y1="396.70" x2="419.30" y2="394.90" stroke="#000" stroke-width="1.10"/><line x1="475.50" y1="396.70" x2="475.50" y2="394.90" stroke="#000" stroke-width="1.10"/>
<line x1="307.15" y1="237.30" x2="310.35" y2="237.30" stroke="#000" stroke-width="1.10"/><line x1="307.15" y1="305.45" x2="310.35" y2="305.45" stroke="#000" stroke-width="1.10"/><line x1="307.15" y1="373.60" x2="310.35" y2="373.60" stroke="#000" stroke-width="1.10"/><line x1="307.15" y1="271.40" x2="308.95" y2="271.40" stroke="#000" stroke-width="1.10"/><line x1="307.15" y1="339.50" x2="308.95" y2="339.50" stroke="#000" stroke-width="1.10"/>
<text x="335.00" y="409.30" font-size="10.10" font-weight="bold" font-style="normal" text-anchor="middle" >0</text>
<text x="391.20" y="409.30" font-size="10.10" font-weight="bold" font-style="normal" text-anchor="middle" >100</text>
<text x="447.40" y="409.30" font-size="10.10" font-weight="bold" font-style="normal" text-anchor="middle" >200</text>
<text x="503.60" y="409.30" font-size="10.10" font-weight="bold" font-style="normal" text-anchor="middle" >300</text>
<text x="303.20" y="240.90" font-size="10.10" font-weight="bold" font-style="normal" text-anchor="end" >4.8</text>
<text x="303.20" y="309.05" font-size="10.10" font-weight="bold" font-style="normal" text-anchor="end" >2.4</text>
<text x="303.20" y="377.20" font-size="10.10" font-weight="bold" font-style="normal" text-anchor="end" >0.0</text>
<text x="419.60" y="426.20" font-size="10.40" font-weight="bold" font-style="normal" text-anchor="middle" >Temperature(K)</text>
<text x="314.00" y="233.20" font-size="16.40" font-weight="bold" font-style="normal" text-anchor="start" >(d)</text>
<text class="yl" transform="translate(282.60,306.00) rotate(-90)" font-size="11.00" font-weight="bold" text-anchor="middle" letter-spacing="0.60">|<tspan font-weight="normal">Δρ</tspan><tspan font-size="8.80" dy="3.08">xx</tspan><tspan font-weight="normal" dy="-3.08">/ρ</tspan><tspan font-size="8.80" dy="3.08">xx</tspan><tspan dy="-3.08">|(10</tspan><tspan font-size="7.04" dy="-5.28">-3</tspan><tspan dy="5.28">)</tspan></text>
<line x1="381.80" y1="225.6" x2="402.60" y2="225.6" stroke="#2a2a2a" stroke-width="1.3"/>
<rect x="390.40" y="223.80" width="3.60" height="3.60" fill="#2a2a2a"/>
<text x="403.00" y="228.60" font-size="9.00" font-weight="bold" font-style="normal" text-anchor="start" >α</text>
<line x1="407.90" y1="225.6" x2="427.60" y2="225.6" stroke="#ff1a1a" stroke-width="1.3"/>
<circle cx="417.75" cy="225.60" r="1.89" fill="#ff1a1a"/>
<text x="428.60" y="228.60" font-size="9.00" font-weight="bold" font-style="normal" text-anchor="start" >β</text>
<line x1="433.60" y1="225.6" x2="452.80" y2="225.6" stroke="#1a5ee6" stroke-width="1.3"/>
<path d="M443.20,223.26L445.36,227.04L441.04,227.04Z" fill="#1a5ee6"/>
<text x="454.50" y="228.60" font-size="9.00" font-weight="bold" font-style="normal" text-anchor="start" >γ</text>
<rect x="414.30" y="236.10" width="113.30" height="91.40" fill="#fff" stroke="#000" stroke-width="1.3"/>
<line x1="422.50" y1="327.50" x2="422.50" y2="325.30" stroke="#000" stroke-width="0.9"/>
<text x="422.50" y="336.20" font-size="7.80" font-weight="bold" font-style="normal" text-anchor="middle" >0</text>
<line x1="438.75" y1="327.50" x2="438.75" y2="325.30" stroke="#000" stroke-width="0.9"/>
<text x="438.75" y="336.20" font-size="7.80" font-weight="bold" font-style="normal" text-anchor="middle" >50</text>
<line x1="455.00" y1="327.50" x2="455.00" y2="325.30" stroke="#000" stroke-width="0.9"/>
<text x="455.00" y="336.20" font-size="7.80" font-weight="bold" font-style="normal" text-anchor="middle" >100</text>
<line x1="471.25" y1="327.50" x2="471.25" y2="325.30" stroke="#000" stroke-width="0.9"/>
<text x="471.25" y="336.20" font-size="7.80" font-weight="bold" font-style="normal" text-anchor="middle" >150</text>
<line x1="487.50" y1="327.50" x2="487.50" y2="325.30" stroke="#000" stroke-width="0.9"/>
<text x="487.50" y="336.20" font-size="7.80" font-weight="bold" font-style="normal" text-anchor="middle" >200</text>
<line x1="503.75" y1="327.50" x2="503.75" y2="325.30" stroke="#000" stroke-width="0.9"/>
<text x="503.75" y="336.20" font-size="7.80" font-weight="bold" font-style="normal" text-anchor="middle" >250</text>
<line x1="520.00" y1="327.50" x2="520.00" y2="325.30" stroke="#000" stroke-width="0.9"/>
<text x="520.00" y="336.20" font-size="7.80" font-weight="bold" font-style="normal" text-anchor="middle" >300</text>
<line x1="414.30" y1="327.50" x2="416.50" y2="327.50" stroke="#000" stroke-width="0.9"/>
<text x="411.60" y="330.10" font-size="7.40" font-weight="bold" font-style="normal" text-anchor="end" >0.00</text>
<line x1="414.30" y1="297.03" x2="416.50" y2="297.03" stroke="#000" stroke-width="0.9"/>
<text x="411.60" y="299.63" font-size="7.40" font-weight="bold" font-style="normal" text-anchor="end" >0.02</text>
<line x1="414.30" y1="266.57" x2="416.50" y2="266.57" stroke="#000" stroke-width="0.9"/>
<text x="411.60" y="269.17" font-size="7.40" font-weight="bold" font-style="normal" text-anchor="end" >0.04</text>
<line x1="414.30" y1="236.10" x2="416.50" y2="236.10" stroke="#000" stroke-width="0.9"/>
<text x="411.60" y="238.70" font-size="7.40" font-weight="bold" font-style="normal" text-anchor="end" >0.06</text>
<text x="470.50" y="345.30" font-size="8.80" font-weight="bold" font-style="normal" text-anchor="middle" >Temperature (K)</text>
<text transform="translate(397.3,279.6) rotate(-90)" font-size="8.6" font-weight="bold" text-anchor="middle">M [emu/(mol*Oe)]</text>
<path d="M423.80,310.80 C424.83,310.83 427.30,310.93 430.00,311.00 C432.70,311.07 436.67,311.23 440.00,311.20 C443.33,311.17 447.50,311.08 450.00,310.80 C452.50,310.52 453.67,310.05 455.00,309.50 C456.33,308.95 457.17,308.22 458.00,307.50 C458.83,306.78 459.33,305.72 460.00,305.20 C460.67,304.68 461.00,304.50 462.00,304.40 C463.00,304.30 463.83,304.30 466.00,304.60 C468.17,304.90 471.00,305.53 475.00,306.20 C479.00,306.87 485.00,307.83 490.00,308.60 C495.00,309.37 499.87,310.10 505.00,310.80 C510.13,311.50 518.17,312.47 520.80,312.80" fill="none" stroke="#202020" stroke-width="1.9" stroke-linejoin="round"/>
<path d="M423.80,310.80 C424.83,310.93 427.30,311.37 430.00,311.60 C432.70,311.83 437.17,312.07 440.00,312.20 C442.83,312.33 445.25,312.47 447.00,312.40 C448.75,312.33 449.50,312.27 450.50,311.80 C451.50,311.33 452.25,310.90 453.00,309.60 C453.75,308.30 454.33,306.77 455.00,304.00 C455.67,301.23 456.33,297.42 457.00,293.00 C457.67,288.58 458.42,282.33 459.00,277.50 C459.58,272.67 460.03,267.38 460.50,264.00 C460.97,260.62 461.35,258.63 461.80,257.20 C462.25,255.77 462.67,255.67 463.20,255.40 C463.73,255.13 464.20,255.20 465.00,255.60 C465.80,256.00 466.33,256.48 468.00,257.80 C469.67,259.12 472.17,261.05 475.00,263.50 C477.83,265.95 481.67,269.50 485.00,272.50 C488.33,275.50 491.67,278.50 495.00,281.50 C498.33,284.50 502.00,287.78 505.00,290.50 C508.00,293.22 510.37,295.47 513.00,297.80 C515.63,300.13 519.50,303.38 520.80,304.50" fill="none" stroke="#ee1111" stroke-width="1.9" stroke-linejoin="round"/>
<line x1="458.6" y1="242.7" x2="478.4" y2="242.7" stroke="#ee1111" stroke-width="2.0"/>
<line x1="458.6" y1="252.3" x2="478.4" y2="252.3" stroke="#202020" stroke-width="2.0"/>
<text x="481.80" y="245.80" font-size="8.20" font-weight="bold" font-style="normal" text-anchor="start" >Out of Plane</text>
<text x="484.20" y="255.40" font-size="8.20" font-weight="bold" font-style="normal" text-anchor="start" >In Plane</text>
</svg>
</body></html>
